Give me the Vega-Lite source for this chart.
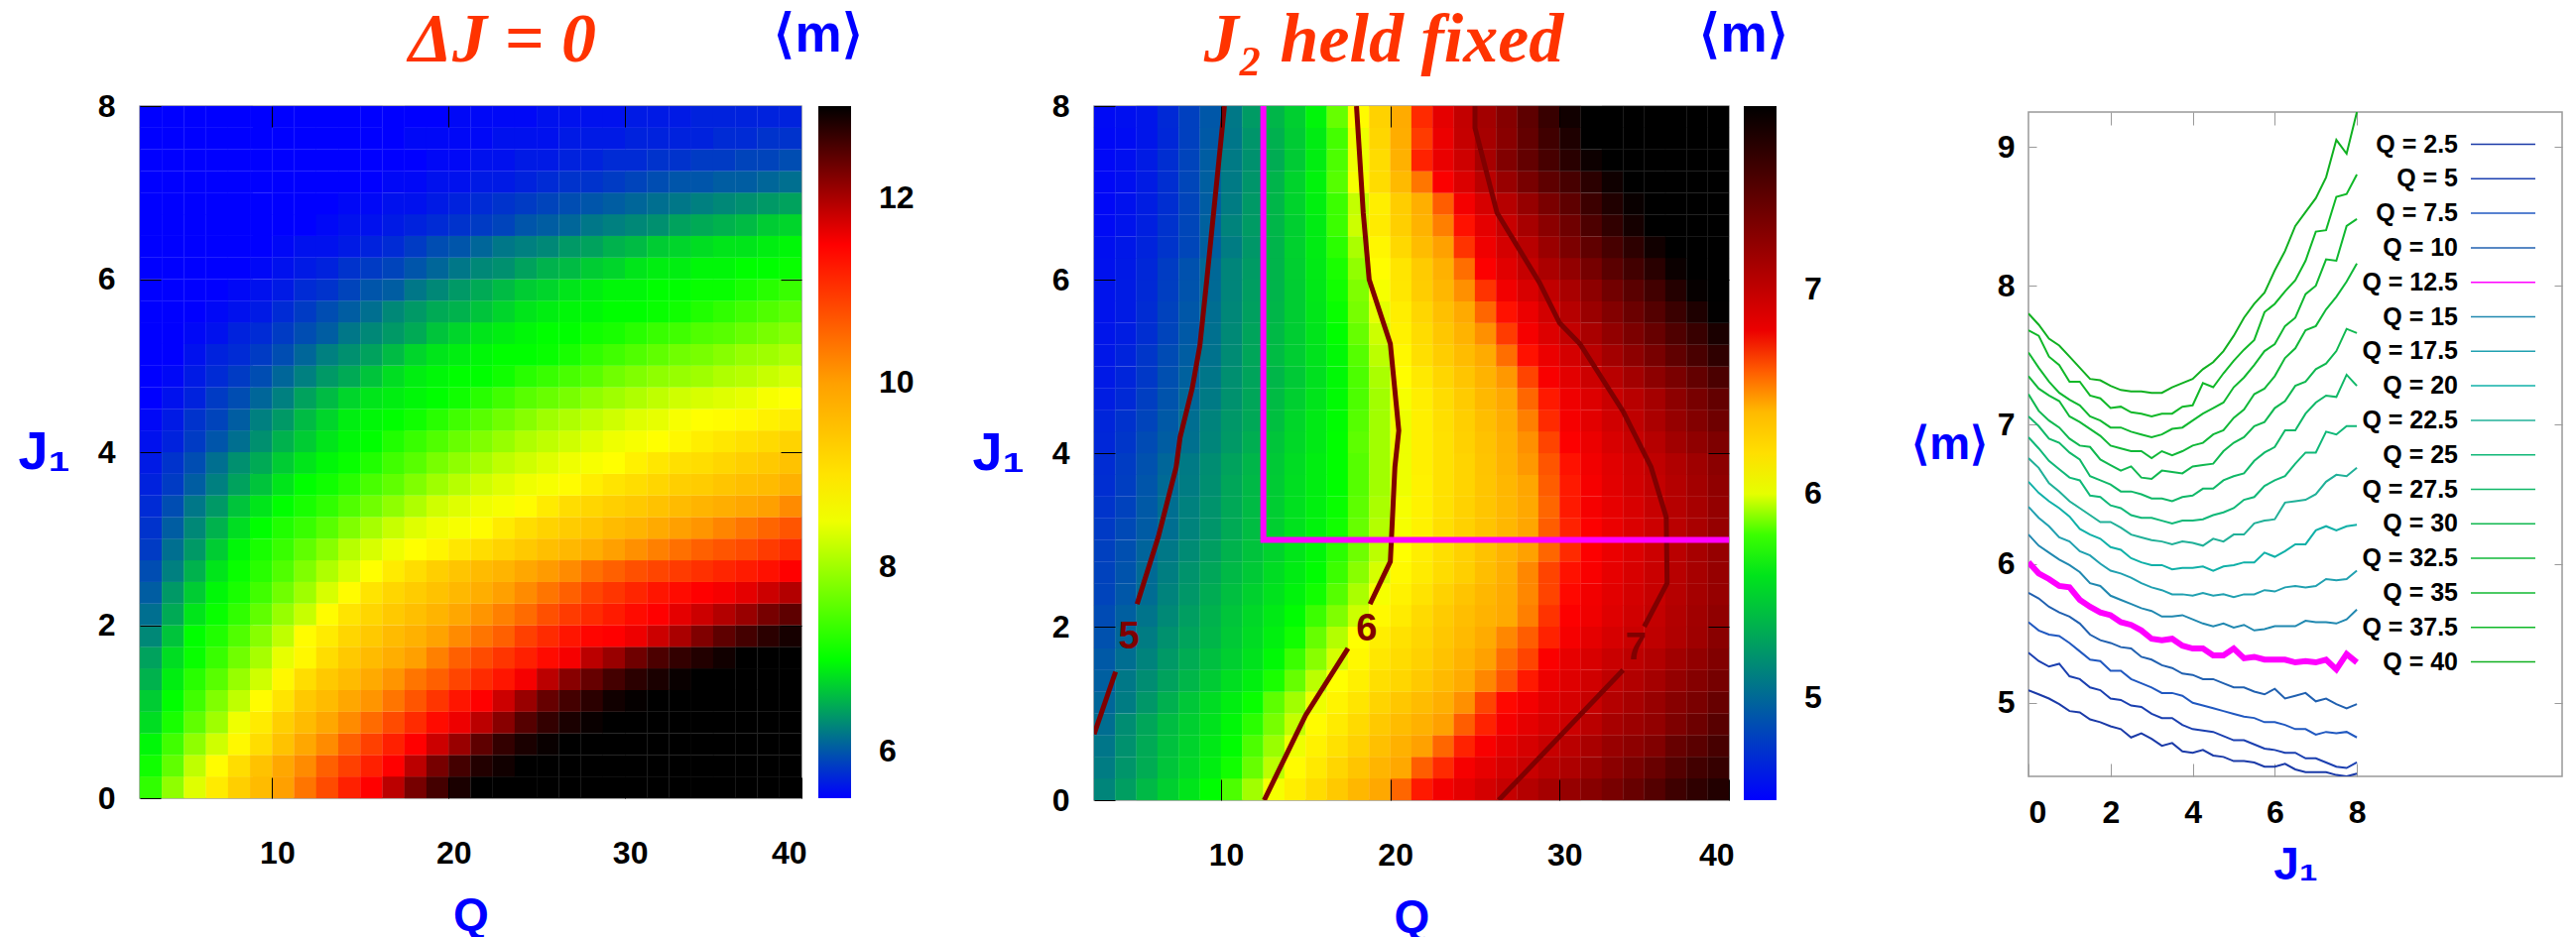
{"$schema":"https://vega.github.io/schema/vega-lite/v6.json","padding":{"left":17,"top":5,"right":5,"bottom":2},"background":"white","bounds":"flush","spacing":295,
"config":{"view":{"stroke":"#999999","strokeWidth":1.5},"font":"Liberation Sans","axis":{"labelFont":"Liberation Sans","labelFontWeight":"bold","labelFontSize":32,"labelColor":"#000","titleFont":"Liberation Sans","titleFontWeight":"bold","titleColor":"#0000ff","titleFontSize":46,"grid":false,"domain":false},"legend":{"labelFont":"Liberation Sans","labelFontWeight":"bold","labelFontSize":32,"labelColor":"#000","titleFont":"Liberation Sans","titleFontWeight":"bold","titleColor":"#0000ff"}},
"datasets":{"g":[
{"q":3.125,"j":0.125,"a":7.3,"b":5.14},{"q":4.375,"j":0.125,"a":7.9,"b":5.26},{"q":5.625,"j":0.125,"a":8.4,"b":5.39},{"q":6.875,"j":0.125,"a":8.9,"b":5.5},{"q":8.125,"j":0.125,"a":9.3,"b":5.6},{"q":9.375,"j":0.125,"a":9.6,"b":5.72},{"q":10.625,"j":0.125,"a":10,"b":5.82},{"q":11.875,"j":0.125,"a":10.4,"b":5.92},{"q":13.125,"j":0.125,"a":10.8,"b":6.02},{"q":14.375,"j":0.125,"a":11.2,"b":6.12},{"q":15.625,"j":0.125,"a":11.5,"b":6.22},{"q":16.875,"j":0.125,"a":11.9,"b":6.32},{"q":18.125,"j":0.125,"a":12.3,"b":6.42},{"q":19.375,"j":0.125,"a":12.6,"b":6.5},{"q":20.625,"j":0.125,"a":12.85,"b":6.59},{"q":21.875,"j":0.125,"a":13,"b":6.68},{"q":23.125,"j":0.125,"a":13,"b":6.76},{"q":24.375,"j":0.125,"a":13,"b":6.83},{"q":25.625,"j":0.125,"a":13,"b":6.91},{"q":26.875,"j":0.125,"a":13,"b":6.98},{"q":28.125,"j":0.125,"a":13,"b":7.06},{"q":29.375,"j":0.125,"a":13,"b":7.13},{"q":30.625,"j":0.125,"a":13,"b":7.2},{"q":31.875,"j":0.125,"a":13,"b":7.27},{"q":33.125,"j":0.125,"a":13,"b":7.34},{"q":34.375,"j":0.125,"a":13,"b":7.42},{"q":35.625,"j":0.125,"a":13,"b":7.51},{"q":36.875,"j":0.125,"a":13,"b":7.61},{"q":38.125,"j":0.125,"a":13,"b":7.68},{"q":39.375,"j":0.125,"a":13,"b":7.74},
{"q":3.125,"j":0.375,"a":7.1,"b":5.1},{"q":4.375,"j":0.375,"a":7.6,"b":5.22},{"q":5.625,"j":0.375,"a":8.2,"b":5.33},{"q":6.875,"j":0.375,"a":8.65,"b":5.45},{"q":8.125,"j":0.375,"a":9.1,"b":5.54},{"q":9.375,"j":0.375,"a":9.5,"b":5.65},{"q":10.625,"j":0.375,"a":9.9,"b":5.75},{"q":11.875,"j":0.375,"a":10.2,"b":5.85},{"q":13.125,"j":0.375,"a":10.6,"b":5.95},{"q":14.375,"j":0.375,"a":10.9,"b":6.05},{"q":15.625,"j":0.375,"a":11.2,"b":6.15},{"q":16.875,"j":0.375,"a":11.5,"b":6.25},{"q":18.125,"j":0.375,"a":11.9,"b":6.34},{"q":19.375,"j":0.375,"a":12.3,"b":6.43},{"q":20.625,"j":0.375,"a":12.6,"b":6.5},{"q":21.875,"j":0.375,"a":12.8,"b":6.6},{"q":23.125,"j":0.375,"a":12.9,"b":6.66},{"q":24.375,"j":0.375,"a":13,"b":6.75},{"q":25.625,"j":0.375,"a":13,"b":6.82},{"q":26.875,"j":0.375,"a":13,"b":6.9},{"q":28.125,"j":0.375,"a":13,"b":6.96},{"q":29.375,"j":0.375,"a":13,"b":7.03},{"q":30.625,"j":0.375,"a":13,"b":7.09},{"q":31.875,"j":0.375,"a":13,"b":7.17},{"q":33.125,"j":0.375,"a":13,"b":7.25},{"q":34.375,"j":0.375,"a":13,"b":7.33},{"q":35.625,"j":0.375,"a":13,"b":7.41},{"q":36.875,"j":0.375,"a":13,"b":7.51},{"q":38.125,"j":0.375,"a":13,"b":7.59},{"q":39.375,"j":0.375,"a":13,"b":7.65},
{"q":3.125,"j":0.625,"a":6.95,"b":5.07},{"q":4.375,"j":0.625,"a":7.4,"b":5.2},{"q":5.625,"j":0.625,"a":7.9,"b":5.32},{"q":6.875,"j":0.625,"a":8.3,"b":5.43},{"q":8.125,"j":0.625,"a":8.7,"b":5.52},{"q":9.375,"j":0.625,"a":9.1,"b":5.62},{"q":10.625,"j":0.625,"a":9.5,"b":5.72},{"q":11.875,"j":0.625,"a":9.9,"b":5.82},{"q":13.125,"j":0.625,"a":10.2,"b":5.91},{"q":14.375,"j":0.625,"a":10.6,"b":6.01},{"q":15.625,"j":0.625,"a":10.9,"b":6.1},{"q":16.875,"j":0.625,"a":11.2,"b":6.19},{"q":18.125,"j":0.625,"a":11.5,"b":6.28},{"q":19.375,"j":0.625,"a":11.8,"b":6.37},{"q":20.625,"j":0.625,"a":12.1,"b":6.45},{"q":21.875,"j":0.625,"a":12.45,"b":6.52},{"q":23.125,"j":0.625,"a":12.7,"b":6.59},{"q":24.375,"j":0.625,"a":12.85,"b":6.67},{"q":25.625,"j":0.625,"a":12.95,"b":6.74},{"q":26.875,"j":0.625,"a":13,"b":6.83},{"q":28.125,"j":0.625,"a":13,"b":6.9},{"q":29.375,"j":0.625,"a":13,"b":6.97},{"q":30.625,"j":0.625,"a":13,"b":7.03},{"q":31.875,"j":0.625,"a":13,"b":7.11},{"q":33.125,"j":0.625,"a":13,"b":7.19},{"q":34.375,"j":0.625,"a":13,"b":7.24},{"q":35.625,"j":0.625,"a":13,"b":7.3},{"q":36.875,"j":0.625,"a":13,"b":7.42},{"q":38.125,"j":0.625,"a":13,"b":7.48},{"q":39.375,"j":0.625,"a":13,"b":7.57},
{"q":3.125,"j":0.875,"a":6.8,"b":5.03},{"q":4.375,"j":0.875,"a":7.15,"b":5.18},{"q":5.625,"j":0.875,"a":7.6,"b":5.3},{"q":6.875,"j":0.875,"a":8,"b":5.41},{"q":8.125,"j":0.875,"a":8.5,"b":5.5},{"q":9.375,"j":0.875,"a":8.9,"b":5.59},{"q":10.625,"j":0.875,"a":9.3,"b":5.69},{"q":11.875,"j":0.875,"a":9.6,"b":5.78},{"q":13.125,"j":0.875,"a":9.9,"b":5.87},{"q":14.375,"j":0.875,"a":10.2,"b":5.96},{"q":15.625,"j":0.875,"a":10.5,"b":6.05},{"q":16.875,"j":0.875,"a":10.8,"b":6.14},{"q":18.125,"j":0.875,"a":11.1,"b":6.23},{"q":19.375,"j":0.875,"a":11.4,"b":6.32},{"q":20.625,"j":0.875,"a":11.6,"b":6.39},{"q":21.875,"j":0.875,"a":11.9,"b":6.45},{"q":23.125,"j":0.875,"a":12.2,"b":6.52},{"q":24.375,"j":0.875,"a":12.5,"b":6.6},{"q":25.625,"j":0.875,"a":12.7,"b":6.67},{"q":26.875,"j":0.875,"a":12.85,"b":6.75},{"q":28.125,"j":0.875,"a":12.95,"b":6.83},{"q":29.375,"j":0.875,"a":13,"b":6.89},{"q":30.625,"j":0.875,"a":13,"b":6.95},{"q":31.875,"j":0.875,"a":13,"b":7.03},{"q":33.125,"j":0.875,"a":13,"b":7.12},{"q":34.375,"j":0.875,"a":13,"b":7.17},{"q":35.625,"j":0.875,"a":13,"b":7.22},{"q":36.875,"j":0.875,"a":13,"b":7.31},{"q":38.125,"j":0.875,"a":13,"b":7.39},{"q":39.375,"j":0.875,"a":13,"b":7.49},
{"q":3.125,"j":1.125,"a":6.7,"b":4.99},{"q":4.375,"j":1.125,"a":7,"b":5.1},{"q":5.625,"j":1.125,"a":7.4,"b":5.23},{"q":6.875,"j":1.125,"a":7.8,"b":5.35},{"q":8.125,"j":1.125,"a":8.2,"b":5.46},{"q":9.375,"j":1.125,"a":8.65,"b":5.56},{"q":10.625,"j":1.125,"a":9,"b":5.65},{"q":11.875,"j":1.125,"a":9.4,"b":5.74},{"q":13.125,"j":1.125,"a":9.6,"b":5.84},{"q":14.375,"j":1.125,"a":9.9,"b":5.92},{"q":15.625,"j":1.125,"a":10.1,"b":6.01},{"q":16.875,"j":1.125,"a":10.4,"b":6.09},{"q":18.125,"j":1.125,"a":10.7,"b":6.17},{"q":19.375,"j":1.125,"a":11,"b":6.26},{"q":20.625,"j":1.125,"a":11.3,"b":6.33},{"q":21.875,"j":1.125,"a":11.5,"b":6.39},{"q":23.125,"j":1.125,"a":11.8,"b":6.46},{"q":24.375,"j":1.125,"a":12.1,"b":6.54},{"q":25.625,"j":1.125,"a":12.4,"b":6.63},{"q":26.875,"j":1.125,"a":12.6,"b":6.7},{"q":28.125,"j":1.125,"a":12.75,"b":6.76},{"q":29.375,"j":1.125,"a":12.9,"b":6.84},{"q":30.625,"j":1.125,"a":12.97,"b":6.9},{"q":31.875,"j":1.125,"a":13,"b":6.97},{"q":33.125,"j":1.125,"a":13,"b":7.06},{"q":34.375,"j":1.125,"a":13,"b":7.12},{"q":35.625,"j":1.125,"a":13,"b":7.19},{"q":36.875,"j":1.125,"a":13,"b":7.27},{"q":38.125,"j":1.125,"a":13,"b":7.33},{"q":39.375,"j":1.125,"a":13,"b":7.42},
{"q":3.125,"j":1.375,"a":6.55,"b":4.96},{"q":4.375,"j":1.375,"a":6.9,"b":5.08},{"q":5.625,"j":1.375,"a":7.25,"b":5.18},{"q":6.875,"j":1.375,"a":7.55,"b":5.28},{"q":8.125,"j":1.375,"a":7.95,"b":5.38},{"q":9.375,"j":1.375,"a":8.3,"b":5.48},{"q":10.625,"j":1.375,"a":8.7,"b":5.57},{"q":11.875,"j":1.375,"a":9.1,"b":5.66},{"q":13.125,"j":1.375,"a":9.4,"b":5.76},{"q":14.375,"j":1.375,"a":9.6,"b":5.85},{"q":15.625,"j":1.375,"a":9.85,"b":5.95},{"q":16.875,"j":1.375,"a":10.1,"b":6.03},{"q":18.125,"j":1.375,"a":10.4,"b":6.11},{"q":19.375,"j":1.375,"a":10.6,"b":6.2},{"q":20.625,"j":1.375,"a":10.85,"b":6.25},{"q":21.875,"j":1.375,"a":11.1,"b":6.32},{"q":23.125,"j":1.375,"a":11.3,"b":6.4},{"q":24.375,"j":1.375,"a":11.55,"b":6.48},{"q":25.625,"j":1.375,"a":11.9,"b":6.55},{"q":26.875,"j":1.375,"a":12.2,"b":6.61},{"q":28.125,"j":1.375,"a":12.4,"b":6.68},{"q":29.375,"j":1.375,"a":12.6,"b":6.79},{"q":30.625,"j":1.375,"a":12.75,"b":6.86},{"q":31.875,"j":1.375,"a":12.85,"b":6.93},{"q":33.125,"j":1.375,"a":12.95,"b":7.01},{"q":34.375,"j":1.375,"a":13,"b":7.07},{"q":35.625,"j":1.375,"a":13,"b":7.13},{"q":36.875,"j":1.375,"a":13,"b":7.21},{"q":38.125,"j":1.375,"a":13,"b":7.28},{"q":39.375,"j":1.375,"a":13,"b":7.35},
{"q":3.125,"j":1.625,"a":6.45,"b":4.93},{"q":4.375,"j":1.625,"a":6.8,"b":5.03},{"q":5.625,"j":1.625,"a":7.05,"b":5.13},{"q":6.875,"j":1.625,"a":7.35,"b":5.24},{"q":8.125,"j":1.625,"a":7.7,"b":5.33},{"q":9.375,"j":1.625,"a":8.05,"b":5.42},{"q":10.625,"j":1.625,"a":8.45,"b":5.5},{"q":11.875,"j":1.625,"a":8.7,"b":5.59},{"q":13.125,"j":1.625,"a":9.1,"b":5.7},{"q":14.375,"j":1.625,"a":9.4,"b":5.8},{"q":15.625,"j":1.625,"a":9.6,"b":5.89},{"q":16.875,"j":1.625,"a":9.8,"b":5.98},{"q":18.125,"j":1.625,"a":10,"b":6.07},{"q":19.375,"j":1.625,"a":10.3,"b":6.16},{"q":20.625,"j":1.625,"a":10.6,"b":6.22},{"q":21.875,"j":1.625,"a":10.8,"b":6.28},{"q":23.125,"j":1.625,"a":11,"b":6.36},{"q":24.375,"j":1.625,"a":11.2,"b":6.44},{"q":25.625,"j":1.625,"a":11.4,"b":6.52},{"q":26.875,"j":1.625,"a":11.55,"b":6.58},{"q":28.125,"j":1.625,"a":11.9,"b":6.63},{"q":29.375,"j":1.625,"a":12.1,"b":6.73},{"q":30.625,"j":1.625,"a":12.35,"b":6.82},{"q":31.875,"j":1.625,"a":12.55,"b":6.89},{"q":33.125,"j":1.625,"a":12.7,"b":6.96},{"q":34.375,"j":1.625,"a":12.8,"b":7.02},{"q":35.625,"j":1.625,"a":12.9,"b":7.07},{"q":36.875,"j":1.625,"a":13,"b":7.15},{"q":38.125,"j":1.625,"a":13,"b":7.22},{"q":39.375,"j":1.625,"a":13,"b":7.3},
{"q":3.125,"j":1.875,"a":6.3,"b":4.89},{"q":4.375,"j":1.875,"a":6.65,"b":4.99},{"q":5.625,"j":1.875,"a":7,"b":5.1},{"q":6.875,"j":1.875,"a":7.2,"b":5.2},{"q":8.125,"j":1.875,"a":7.5,"b":5.29},{"q":9.375,"j":1.875,"a":7.85,"b":5.38},{"q":10.625,"j":1.875,"a":8.2,"b":5.47},{"q":11.875,"j":1.875,"a":8.65,"b":5.56},{"q":13.125,"j":1.875,"a":8.9,"b":5.66},{"q":14.375,"j":1.875,"a":9.2,"b":5.75},{"q":15.625,"j":1.875,"a":9.4,"b":5.85},{"q":16.875,"j":1.875,"a":9.6,"b":5.94},{"q":18.125,"j":1.875,"a":9.75,"b":6.03},{"q":19.375,"j":1.875,"a":9.95,"b":6.12},{"q":20.625,"j":1.875,"a":10.2,"b":6.19},{"q":21.875,"j":1.875,"a":10.4,"b":6.25},{"q":23.125,"j":1.875,"a":10.6,"b":6.33},{"q":24.375,"j":1.875,"a":10.9,"b":6.4},{"q":25.625,"j":1.875,"a":11.1,"b":6.48},{"q":26.875,"j":1.875,"a":11.3,"b":6.55},{"q":28.125,"j":1.875,"a":11.45,"b":6.6},{"q":29.375,"j":1.875,"a":11.5,"b":6.67},{"q":30.625,"j":1.875,"a":11.6,"b":6.75},{"q":31.875,"j":1.875,"a":11.8,"b":6.83},{"q":33.125,"j":1.875,"a":12,"b":6.9},{"q":34.375,"j":1.875,"a":12.25,"b":6.96},{"q":35.625,"j":1.875,"a":12.45,"b":7.01},{"q":36.875,"j":1.875,"a":12.6,"b":7.08},{"q":38.125,"j":1.875,"a":12.75,"b":7.16},{"q":39.375,"j":1.875,"a":12.87,"b":7.26},
{"q":3.125,"j":2.125,"a":6.15,"b":4.86},{"q":4.375,"j":2.125,"a":6.5,"b":4.96},{"q":5.625,"j":2.125,"a":6.85,"b":5.06},{"q":6.875,"j":2.125,"a":7.05,"b":5.16},{"q":8.125,"j":2.125,"a":7.3,"b":5.26},{"q":9.375,"j":2.125,"a":7.6,"b":5.36},{"q":10.625,"j":2.125,"a":7.95,"b":5.45},{"q":11.875,"j":2.125,"a":8.25,"b":5.54},{"q":13.125,"j":2.125,"a":8.65,"b":5.63},{"q":14.375,"j":2.125,"a":9,"b":5.72},{"q":15.625,"j":2.125,"a":9.2,"b":5.8},{"q":16.875,"j":2.125,"a":9.4,"b":5.88},{"q":18.125,"j":2.125,"a":9.55,"b":5.97},{"q":19.375,"j":2.125,"a":9.7,"b":6.06},{"q":20.625,"j":2.125,"a":9.9,"b":6.14},{"q":21.875,"j":2.125,"a":10.1,"b":6.23},{"q":23.125,"j":2.125,"a":10.3,"b":6.31},{"q":24.375,"j":2.125,"a":10.5,"b":6.38},{"q":25.625,"j":2.125,"a":10.75,"b":6.44},{"q":26.875,"j":2.125,"a":10.95,"b":6.49},{"q":28.125,"j":2.125,"a":11.1,"b":6.56},{"q":29.375,"j":2.125,"a":11.25,"b":6.65},{"q":30.625,"j":2.125,"a":11.4,"b":6.72},{"q":31.875,"j":2.125,"a":11.5,"b":6.78},{"q":33.125,"j":2.125,"a":11.65,"b":6.86},{"q":34.375,"j":2.125,"a":11.8,"b":6.93},{"q":35.625,"j":2.125,"a":11.95,"b":6.99},{"q":36.875,"j":2.125,"a":12.1,"b":7.07},{"q":38.125,"j":2.125,"a":12.3,"b":7.15},{"q":39.375,"j":2.125,"a":12.45,"b":7.23},
{"q":3.125,"j":2.375,"a":6.05,"b":4.83},{"q":4.375,"j":2.375,"a":6.4,"b":4.92},{"q":5.625,"j":2.375,"a":6.7,"b":5.02},{"q":6.875,"j":2.375,"a":6.95,"b":5.13},{"q":8.125,"j":2.375,"a":7.15,"b":5.23},{"q":9.375,"j":2.375,"a":7.4,"b":5.33},{"q":10.625,"j":2.375,"a":7.7,"b":5.42},{"q":11.875,"j":2.375,"a":8,"b":5.51},{"q":13.125,"j":2.375,"a":8.35,"b":5.59},{"q":14.375,"j":2.375,"a":8.65,"b":5.67},{"q":15.625,"j":2.375,"a":9,"b":5.75},{"q":16.875,"j":2.375,"a":9.2,"b":5.83},{"q":18.125,"j":2.375,"a":9.35,"b":5.93},{"q":19.375,"j":2.375,"a":9.5,"b":6.02},{"q":20.625,"j":2.375,"a":9.65,"b":6.1},{"q":21.875,"j":2.375,"a":9.8,"b":6.18},{"q":23.125,"j":2.375,"a":10,"b":6.27},{"q":24.375,"j":2.375,"a":10.2,"b":6.35},{"q":25.625,"j":2.375,"a":10.4,"b":6.42},{"q":26.875,"j":2.375,"a":10.6,"b":6.48},{"q":28.125,"j":2.375,"a":10.85,"b":6.55},{"q":29.375,"j":2.375,"a":11,"b":6.63},{"q":30.625,"j":2.375,"a":11.15,"b":6.7},{"q":31.875,"j":2.375,"a":11.3,"b":6.77},{"q":33.125,"j":2.375,"a":11.4,"b":6.84},{"q":34.375,"j":2.375,"a":11.5,"b":6.91},{"q":35.625,"j":2.375,"a":11.55,"b":6.97},{"q":36.875,"j":2.375,"a":11.65,"b":7.05},{"q":38.125,"j":2.375,"a":11.8,"b":7.13},{"q":39.375,"j":2.375,"a":11.95,"b":7.2},
{"q":3.125,"j":2.625,"a":5.95,"b":4.82},{"q":4.375,"j":2.625,"a":6.25,"b":4.9},{"q":5.625,"j":2.625,"a":6.55,"b":5.01},{"q":6.875,"j":2.625,"a":6.85,"b":5.11},{"q":8.125,"j":2.625,"a":7.05,"b":5.21},{"q":9.375,"j":2.625,"a":7.25,"b":5.3},{"q":10.625,"j":2.625,"a":7.5,"b":5.39},{"q":11.875,"j":2.625,"a":7.8,"b":5.47},{"q":13.125,"j":2.625,"a":8.1,"b":5.56},{"q":14.375,"j":2.625,"a":8.35,"b":5.64},{"q":15.625,"j":2.625,"a":8.6,"b":5.72},{"q":16.875,"j":2.625,"a":8.9,"b":5.8},{"q":18.125,"j":2.625,"a":9.1,"b":5.89},{"q":19.375,"j":2.625,"a":9.3,"b":5.98},{"q":20.625,"j":2.625,"a":9.45,"b":6.06},{"q":21.875,"j":2.625,"a":9.6,"b":6.14},{"q":23.125,"j":2.625,"a":9.7,"b":6.22},{"q":24.375,"j":2.625,"a":9.9,"b":6.29},{"q":25.625,"j":2.625,"a":10.05,"b":6.38},{"q":26.875,"j":2.625,"a":10.2,"b":6.46},{"q":28.125,"j":2.625,"a":10.45,"b":6.55},{"q":29.375,"j":2.625,"a":10.6,"b":6.63},{"q":30.625,"j":2.625,"a":10.75,"b":6.69},{"q":31.875,"j":2.625,"a":10.85,"b":6.74},{"q":33.125,"j":2.625,"a":10.95,"b":6.82},{"q":34.375,"j":2.625,"a":11.05,"b":6.89},{"q":35.625,"j":2.625,"a":11.15,"b":6.96},{"q":36.875,"j":2.625,"a":11.25,"b":7.04},{"q":38.125,"j":2.625,"a":11.35,"b":7.12},{"q":39.375,"j":2.625,"a":11.5,"b":7.2},
{"q":3.125,"j":2.875,"a":5.85,"b":4.81},{"q":4.375,"j":2.875,"a":6.15,"b":4.88},{"q":5.625,"j":2.875,"a":6.4,"b":4.98},{"q":6.875,"j":2.875,"a":6.7,"b":5.08},{"q":8.125,"j":2.875,"a":6.95,"b":5.17},{"q":9.375,"j":2.875,"a":7.15,"b":5.26},{"q":10.625,"j":2.875,"a":7.35,"b":5.36},{"q":11.875,"j":2.875,"a":7.6,"b":5.44},{"q":13.125,"j":2.875,"a":7.85,"b":5.52},{"q":14.375,"j":2.875,"a":8.15,"b":5.61},{"q":15.625,"j":2.875,"a":8.35,"b":5.69},{"q":16.875,"j":2.875,"a":8.5,"b":5.78},{"q":18.125,"j":2.875,"a":8.6,"b":5.86},{"q":19.375,"j":2.875,"a":8.75,"b":5.95},{"q":20.625,"j":2.875,"a":8.95,"b":6.03},{"q":21.875,"j":2.875,"a":9.1,"b":6.12},{"q":23.125,"j":2.875,"a":9.25,"b":6.2},{"q":24.375,"j":2.875,"a":9.4,"b":6.28},{"q":25.625,"j":2.875,"a":9.55,"b":6.36},{"q":26.875,"j":2.875,"a":9.65,"b":6.44},{"q":28.125,"j":2.875,"a":9.8,"b":6.52},{"q":29.375,"j":2.875,"a":10,"b":6.59},{"q":30.625,"j":2.875,"a":10.15,"b":6.66},{"q":31.875,"j":2.875,"a":10.3,"b":6.72},{"q":33.125,"j":2.875,"a":10.45,"b":6.8},{"q":34.375,"j":2.875,"a":10.6,"b":6.87},{"q":35.625,"j":2.875,"a":10.7,"b":6.95},{"q":36.875,"j":2.875,"a":10.8,"b":7.03},{"q":38.125,"j":2.875,"a":10.95,"b":7.12},{"q":39.375,"j":2.875,"a":11.1,"b":7.2},
{"q":3.125,"j":3.125,"a":5.8,"b":4.78},{"q":4.375,"j":3.125,"a":6.05,"b":4.85},{"q":5.625,"j":3.125,"a":6.3,"b":4.94},{"q":6.875,"j":3.125,"a":6.55,"b":5.03},{"q":8.125,"j":3.125,"a":6.8,"b":5.13},{"q":9.375,"j":3.125,"a":7,"b":5.22},{"q":10.625,"j":3.125,"a":7.2,"b":5.32},{"q":11.875,"j":3.125,"a":7.35,"b":5.41},{"q":13.125,"j":3.125,"a":7.55,"b":5.5},{"q":14.375,"j":3.125,"a":7.8,"b":5.59},{"q":15.625,"j":3.125,"a":8.05,"b":5.67},{"q":16.875,"j":3.125,"a":8.25,"b":5.75},{"q":18.125,"j":3.125,"a":8.4,"b":5.85},{"q":19.375,"j":3.125,"a":8.5,"b":5.94},{"q":20.625,"j":3.125,"a":8.55,"b":6.02},{"q":21.875,"j":3.125,"a":8.65,"b":6.1},{"q":23.125,"j":3.125,"a":8.9,"b":6.2},{"q":24.375,"j":3.125,"a":9.1,"b":6.28},{"q":25.625,"j":3.125,"a":9.25,"b":6.35},{"q":26.875,"j":3.125,"a":9.35,"b":6.42},{"q":28.125,"j":3.125,"a":9.45,"b":6.51},{"q":29.375,"j":3.125,"a":9.6,"b":6.6},{"q":30.625,"j":3.125,"a":9.7,"b":6.67},{"q":31.875,"j":3.125,"a":9.85,"b":6.72},{"q":33.125,"j":3.125,"a":10,"b":6.8},{"q":34.375,"j":3.125,"a":10.1,"b":6.88},{"q":35.625,"j":3.125,"a":10.25,"b":6.95},{"q":36.875,"j":3.125,"a":10.4,"b":7.03},{"q":38.125,"j":3.125,"a":10.55,"b":7.11},{"q":39.375,"j":3.125,"a":10.7,"b":7.2},
{"q":3.125,"j":3.375,"a":5.75,"b":4.75},{"q":4.375,"j":3.375,"a":5.95,"b":4.82},{"q":5.625,"j":3.375,"a":6.2,"b":4.93},{"q":6.875,"j":3.375,"a":6.4,"b":5.03},{"q":8.125,"j":3.375,"a":6.65,"b":5.12},{"q":9.375,"j":3.375,"a":6.85,"b":5.21},{"q":10.625,"j":3.375,"a":7,"b":5.31},{"q":11.875,"j":3.375,"a":7.15,"b":5.4},{"q":13.125,"j":3.375,"a":7.3,"b":5.49},{"q":14.375,"j":3.375,"a":7.5,"b":5.58},{"q":15.625,"j":3.375,"a":7.7,"b":5.66},{"q":16.875,"j":3.375,"a":7.9,"b":5.74},{"q":18.125,"j":3.375,"a":8.1,"b":5.84},{"q":19.375,"j":3.375,"a":8.3,"b":5.93},{"q":20.625,"j":3.375,"a":8.4,"b":6.02},{"q":21.875,"j":3.375,"a":8.5,"b":6.1},{"q":23.125,"j":3.375,"a":8.55,"b":6.19},{"q":24.375,"j":3.375,"a":8.65,"b":6.27},{"q":25.625,"j":3.375,"a":8.9,"b":6.34},{"q":26.875,"j":3.375,"a":9.1,"b":6.41},{"q":28.125,"j":3.375,"a":9.2,"b":6.5},{"q":29.375,"j":3.375,"a":9.3,"b":6.59},{"q":30.625,"j":3.375,"a":9.4,"b":6.68},{"q":31.875,"j":3.375,"a":9.5,"b":6.75},{"q":33.125,"j":3.375,"a":9.6,"b":6.82},{"q":34.375,"j":3.375,"a":9.7,"b":6.89},{"q":35.625,"j":3.375,"a":9.8,"b":6.97},{"q":36.875,"j":3.375,"a":9.9,"b":7.05},{"q":38.125,"j":3.375,"a":10,"b":7.12},{"q":39.375,"j":3.375,"a":10.2,"b":7.21},
{"q":3.125,"j":3.625,"a":5.7,"b":4.72},{"q":4.375,"j":3.625,"a":5.85,"b":4.8},{"q":5.625,"j":3.625,"a":6.05,"b":4.91},{"q":6.875,"j":3.625,"a":6.25,"b":5.01},{"q":8.125,"j":3.625,"a":6.45,"b":5.1},{"q":9.375,"j":3.625,"a":6.65,"b":5.19},{"q":10.625,"j":3.625,"a":6.85,"b":5.3},{"q":11.875,"j":3.625,"a":7,"b":5.39},{"q":13.125,"j":3.625,"a":7.1,"b":5.48},{"q":14.375,"j":3.625,"a":7.25,"b":5.57},{"q":15.625,"j":3.625,"a":7.45,"b":5.65},{"q":16.875,"j":3.625,"a":7.6,"b":5.73},{"q":18.125,"j":3.625,"a":7.8,"b":5.83},{"q":19.375,"j":3.625,"a":8,"b":5.92},{"q":20.625,"j":3.625,"a":8.15,"b":6.01},{"q":21.875,"j":3.625,"a":8.3,"b":6.1},{"q":23.125,"j":3.625,"a":8.4,"b":6.19},{"q":24.375,"j":3.625,"a":8.5,"b":6.26},{"q":25.625,"j":3.625,"a":8.55,"b":6.34},{"q":26.875,"j":3.625,"a":8.65,"b":6.42},{"q":28.125,"j":3.625,"a":8.85,"b":6.51},{"q":29.375,"j":3.625,"a":9,"b":6.6},{"q":30.625,"j":3.625,"a":9.1,"b":6.68},{"q":31.875,"j":3.625,"a":9.2,"b":6.75},{"q":33.125,"j":3.625,"a":9.3,"b":6.84},{"q":34.375,"j":3.625,"a":9.35,"b":6.92},{"q":35.625,"j":3.625,"a":9.45,"b":6.99},{"q":36.875,"j":3.625,"a":9.55,"b":7.06},{"q":38.125,"j":3.625,"a":9.6,"b":7.14},{"q":39.375,"j":3.625,"a":9.75,"b":7.23},
{"q":3.125,"j":3.875,"a":5.65,"b":4.71},{"q":4.375,"j":3.875,"a":5.8,"b":4.79},{"q":5.625,"j":3.875,"a":5.95,"b":4.89},{"q":6.875,"j":3.875,"a":6.15,"b":4.99},{"q":8.125,"j":3.875,"a":6.35,"b":5.09},{"q":9.375,"j":3.875,"a":6.5,"b":5.18},{"q":10.625,"j":3.875,"a":6.7,"b":5.28},{"q":11.875,"j":3.875,"a":6.85,"b":5.38},{"q":13.125,"j":3.875,"a":6.95,"b":5.47},{"q":14.375,"j":3.875,"a":7.05,"b":5.56},{"q":15.625,"j":3.875,"a":7.2,"b":5.65},{"q":16.875,"j":3.875,"a":7.4,"b":5.73},{"q":18.125,"j":3.875,"a":7.55,"b":5.83},{"q":19.375,"j":3.875,"a":7.75,"b":5.92},{"q":20.625,"j":3.875,"a":7.9,"b":6.01},{"q":21.875,"j":3.875,"a":8.05,"b":6.11},{"q":23.125,"j":3.875,"a":8.2,"b":6.19},{"q":24.375,"j":3.875,"a":8.3,"b":6.26},{"q":25.625,"j":3.875,"a":8.4,"b":6.35},{"q":26.875,"j":3.875,"a":8.5,"b":6.44},{"q":28.125,"j":3.875,"a":8.55,"b":6.53},{"q":29.375,"j":3.875,"a":8.6,"b":6.61},{"q":30.625,"j":3.875,"a":8.8,"b":6.69},{"q":31.875,"j":3.875,"a":8.95,"b":6.77},{"q":33.125,"j":3.875,"a":9.05,"b":6.85},{"q":34.375,"j":3.875,"a":9.1,"b":6.93},{"q":35.625,"j":3.875,"a":9.2,"b":7.01},{"q":36.875,"j":3.875,"a":9.3,"b":7.08},{"q":38.125,"j":3.875,"a":9.4,"b":7.16},{"q":39.375,"j":3.875,"a":9.5,"b":7.25},
{"q":3.125,"j":4.125,"a":5.6,"b":4.69},{"q":4.375,"j":4.125,"a":5.7,"b":4.76},{"q":5.625,"j":4.125,"a":5.85,"b":4.86},{"q":6.875,"j":4.125,"a":6,"b":4.95},{"q":8.125,"j":4.125,"a":6.15,"b":5.04},{"q":9.375,"j":4.125,"a":6.35,"b":5.14},{"q":10.625,"j":4.125,"a":6.55,"b":5.24},{"q":11.875,"j":4.125,"a":6.7,"b":5.34},{"q":13.125,"j":4.125,"a":6.85,"b":5.45},{"q":14.375,"j":4.125,"a":6.95,"b":5.54},{"q":15.625,"j":4.125,"a":7,"b":5.63},{"q":16.875,"j":4.125,"a":7.2,"b":5.73},{"q":18.125,"j":4.125,"a":7.35,"b":5.84},{"q":19.375,"j":4.125,"a":7.5,"b":5.92},{"q":20.625,"j":4.125,"a":7.65,"b":6.01},{"q":21.875,"j":4.125,"a":7.8,"b":6.11},{"q":23.125,"j":4.125,"a":7.95,"b":6.19},{"q":24.375,"j":4.125,"a":8.1,"b":6.28},{"q":25.625,"j":4.125,"a":8.2,"b":6.36},{"q":26.875,"j":4.125,"a":8.3,"b":6.45},{"q":28.125,"j":4.125,"a":8.4,"b":6.54},{"q":29.375,"j":4.125,"a":8.5,"b":6.63},{"q":30.625,"j":4.125,"a":8.55,"b":6.72},{"q":31.875,"j":4.125,"a":8.6,"b":6.8},{"q":33.125,"j":4.125,"a":8.7,"b":6.89},{"q":34.375,"j":4.125,"a":8.85,"b":6.97},{"q":35.625,"j":4.125,"a":8.95,"b":7.05},{"q":36.875,"j":4.125,"a":9.05,"b":7.15},{"q":38.125,"j":4.125,"a":9.15,"b":7.23},{"q":39.375,"j":4.125,"a":9.25,"b":7.31},
{"q":3.125,"j":4.375,"a":5.55,"b":4.68},{"q":4.375,"j":4.375,"a":5.65,"b":4.74},{"q":5.625,"j":4.375,"a":5.8,"b":4.83},{"q":6.875,"j":4.375,"a":5.9,"b":4.93},{"q":8.125,"j":4.375,"a":6.05,"b":5.03},{"q":9.375,"j":4.375,"a":6.25,"b":5.13},{"q":10.625,"j":4.375,"a":6.4,"b":5.23},{"q":11.875,"j":4.375,"a":6.6,"b":5.31},{"q":13.125,"j":4.375,"a":6.75,"b":5.42},{"q":14.375,"j":4.375,"a":6.9,"b":5.53},{"q":15.625,"j":4.375,"a":6.95,"b":5.63},{"q":16.875,"j":4.375,"a":7,"b":5.72},{"q":18.125,"j":4.375,"a":7.1,"b":5.83},{"q":19.375,"j":4.375,"a":7.25,"b":5.92},{"q":20.625,"j":4.375,"a":7.4,"b":6.01},{"q":21.875,"j":4.375,"a":7.55,"b":6.11},{"q":23.125,"j":4.375,"a":7.7,"b":6.2},{"q":24.375,"j":4.375,"a":7.85,"b":6.29},{"q":25.625,"j":4.375,"a":8,"b":6.38},{"q":26.875,"j":4.375,"a":8.1,"b":6.47},{"q":28.125,"j":4.375,"a":8.2,"b":6.56},{"q":29.375,"j":4.375,"a":8.3,"b":6.66},{"q":30.625,"j":4.375,"a":8.4,"b":6.75},{"q":31.875,"j":4.375,"a":8.45,"b":6.84},{"q":33.125,"j":4.375,"a":8.55,"b":6.93},{"q":34.375,"j":4.375,"a":8.6,"b":7.01},{"q":35.625,"j":4.375,"a":8.65,"b":7.1},{"q":36.875,"j":4.375,"a":8.7,"b":7.2},{"q":38.125,"j":4.375,"a":8.8,"b":7.29},{"q":39.375,"j":4.375,"a":8.9,"b":7.38},
{"q":3.125,"j":4.625,"a":5.5,"b":4.64},{"q":4.375,"j":4.625,"a":5.6,"b":4.7},{"q":5.625,"j":4.625,"a":5.7,"b":4.8},{"q":6.875,"j":4.625,"a":5.85,"b":4.9},{"q":8.125,"j":4.625,"a":5.95,"b":4.99},{"q":9.375,"j":4.625,"a":6.1,"b":5.09},{"q":10.625,"j":4.625,"a":6.25,"b":5.2},{"q":11.875,"j":4.625,"a":6.45,"b":5.3},{"q":13.125,"j":4.625,"a":6.6,"b":5.4},{"q":14.375,"j":4.625,"a":6.75,"b":5.5},{"q":15.625,"j":4.625,"a":6.85,"b":5.6},{"q":16.875,"j":4.625,"a":6.9,"b":5.71},{"q":18.125,"j":4.625,"a":6.95,"b":5.82},{"q":19.375,"j":4.625,"a":7,"b":5.92},{"q":20.625,"j":4.625,"a":7.1,"b":6.02},{"q":21.875,"j":4.625,"a":7.25,"b":6.12},{"q":23.125,"j":4.625,"a":7.4,"b":6.22},{"q":24.375,"j":4.625,"a":7.55,"b":6.31},{"q":25.625,"j":4.625,"a":7.65,"b":6.41},{"q":26.875,"j":4.625,"a":7.75,"b":6.5},{"q":28.125,"j":4.625,"a":7.9,"b":6.59},{"q":29.375,"j":4.625,"a":8,"b":6.68},{"q":30.625,"j":4.625,"a":8.1,"b":6.78},{"q":31.875,"j":4.625,"a":8.2,"b":6.87},{"q":33.125,"j":4.625,"a":8.3,"b":6.96},{"q":34.375,"j":4.625,"a":8.35,"b":7.04},{"q":35.625,"j":4.625,"a":8.4,"b":7.13},{"q":36.875,"j":4.625,"a":8.45,"b":7.24},{"q":38.125,"j":4.625,"a":8.55,"b":7.34},{"q":39.375,"j":4.625,"a":8.6,"b":7.44},
{"q":3.125,"j":4.875,"a":5.5,"b":4.62},{"q":4.375,"j":4.875,"a":5.55,"b":4.68},{"q":5.625,"j":4.875,"a":5.65,"b":4.77},{"q":6.875,"j":4.875,"a":5.75,"b":4.88},{"q":8.125,"j":4.875,"a":5.85,"b":4.97},{"q":9.375,"j":4.875,"a":5.95,"b":5.07},{"q":10.625,"j":4.875,"a":6.1,"b":5.19},{"q":11.875,"j":4.875,"a":6.25,"b":5.29},{"q":13.125,"j":4.875,"a":6.4,"b":5.38},{"q":14.375,"j":4.875,"a":6.5,"b":5.47},{"q":15.625,"j":4.875,"a":6.65,"b":5.58},{"q":16.875,"j":4.875,"a":6.8,"b":5.7},{"q":18.125,"j":4.875,"a":6.9,"b":5.82},{"q":19.375,"j":4.875,"a":6.95,"b":5.93},{"q":20.625,"j":4.875,"a":7,"b":6.04},{"q":21.875,"j":4.875,"a":7,"b":6.15},{"q":23.125,"j":4.875,"a":7.1,"b":6.25},{"q":24.375,"j":4.875,"a":7.25,"b":6.34},{"q":25.625,"j":4.875,"a":7.35,"b":6.44},{"q":26.875,"j":4.875,"a":7.45,"b":6.53},{"q":28.125,"j":4.875,"a":7.55,"b":6.63},{"q":29.375,"j":4.875,"a":7.7,"b":6.74},{"q":30.625,"j":4.875,"a":7.8,"b":6.84},{"q":31.875,"j":4.875,"a":7.9,"b":6.95},{"q":33.125,"j":4.875,"a":7.95,"b":7.04},{"q":34.375,"j":4.875,"a":8,"b":7.14},{"q":35.625,"j":4.875,"a":8.1,"b":7.24},{"q":36.875,"j":4.875,"a":8.15,"b":7.33},{"q":38.125,"j":4.875,"a":8.25,"b":7.44},{"q":39.375,"j":4.875,"a":8.35,"b":7.55},
{"q":3.125,"j":5.125,"a":5.5,"b":4.61},{"q":4.375,"j":5.125,"a":5.5,"b":4.67},{"q":5.625,"j":5.125,"a":5.6,"b":4.76},{"q":6.875,"j":5.125,"a":5.7,"b":4.86},{"q":8.125,"j":5.125,"a":5.75,"b":4.95},{"q":9.375,"j":5.125,"a":5.85,"b":5.05},{"q":10.625,"j":5.125,"a":5.95,"b":5.17},{"q":11.875,"j":5.125,"a":6.1,"b":5.3},{"q":13.125,"j":5.125,"a":6.25,"b":5.4},{"q":14.375,"j":5.125,"a":6.35,"b":5.49},{"q":15.625,"j":5.125,"a":6.45,"b":5.59},{"q":16.875,"j":5.125,"a":6.6,"b":5.7},{"q":18.125,"j":5.125,"a":6.75,"b":5.83},{"q":19.375,"j":5.125,"a":6.85,"b":5.95},{"q":20.625,"j":5.125,"a":6.9,"b":6.07},{"q":21.875,"j":5.125,"a":6.95,"b":6.2},{"q":23.125,"j":5.125,"a":7,"b":6.3},{"q":24.375,"j":5.125,"a":7,"b":6.39},{"q":25.625,"j":5.125,"a":7.05,"b":6.48},{"q":26.875,"j":5.125,"a":7.15,"b":6.58},{"q":28.125,"j":5.125,"a":7.3,"b":6.69},{"q":29.375,"j":5.125,"a":7.4,"b":6.8},{"q":30.625,"j":5.125,"a":7.5,"b":6.91},{"q":31.875,"j":5.125,"a":7.6,"b":7.03},{"q":33.125,"j":5.125,"a":7.7,"b":7.14},{"q":34.375,"j":5.125,"a":7.75,"b":7.24},{"q":35.625,"j":5.125,"a":7.85,"b":7.34},{"q":36.875,"j":5.125,"a":7.95,"b":7.45},{"q":38.125,"j":5.125,"a":8,"b":7.56},{"q":39.375,"j":5.125,"a":8.1,"b":7.68},
{"q":3.125,"j":5.375,"a":5.5,"b":4.6},{"q":4.375,"j":5.375,"a":5.5,"b":4.64},{"q":5.625,"j":5.375,"a":5.55,"b":4.72},{"q":6.875,"j":5.375,"a":5.6,"b":4.83},{"q":8.125,"j":5.375,"a":5.7,"b":4.93},{"q":9.375,"j":5.375,"a":5.75,"b":5.04},{"q":10.625,"j":5.375,"a":5.85,"b":5.16},{"q":11.875,"j":5.375,"a":5.95,"b":5.29},{"q":13.125,"j":5.375,"a":6.05,"b":5.39},{"q":14.375,"j":5.375,"a":6.2,"b":5.49},{"q":15.625,"j":5.375,"a":6.3,"b":5.6},{"q":16.875,"j":5.375,"a":6.4,"b":5.73},{"q":18.125,"j":5.375,"a":6.5,"b":5.85},{"q":19.375,"j":5.375,"a":6.65,"b":5.97},{"q":20.625,"j":5.375,"a":6.75,"b":6.1},{"q":21.875,"j":5.375,"a":6.85,"b":6.22},{"q":23.125,"j":5.375,"a":6.9,"b":6.33},{"q":24.375,"j":5.375,"a":6.95,"b":6.44},{"q":25.625,"j":5.375,"a":7,"b":6.54},{"q":26.875,"j":5.375,"a":7,"b":6.64},{"q":28.125,"j":5.375,"a":7.1,"b":6.75},{"q":29.375,"j":5.375,"a":7.15,"b":6.87},{"q":30.625,"j":5.375,"a":7.25,"b":6.99},{"q":31.875,"j":5.375,"a":7.35,"b":7.11},{"q":33.125,"j":5.375,"a":7.4,"b":7.22},{"q":34.375,"j":5.375,"a":7.5,"b":7.32},{"q":35.625,"j":5.375,"a":7.55,"b":7.42},{"q":36.875,"j":5.375,"a":7.65,"b":7.53},{"q":38.125,"j":5.375,"a":7.75,"b":7.64},{"q":39.375,"j":5.375,"a":7.85,"b":7.78},
{"q":3.125,"j":5.625,"a":5.5,"b":4.59},{"q":4.375,"j":5.625,"a":5.5,"b":4.63},{"q":5.625,"j":5.625,"a":5.5,"b":4.71},{"q":6.875,"j":5.625,"a":5.55,"b":4.82},{"q":8.125,"j":5.625,"a":5.6,"b":4.92},{"q":9.375,"j":5.625,"a":5.65,"b":5.03},{"q":10.625,"j":5.625,"a":5.75,"b":5.15},{"q":11.875,"j":5.625,"a":5.85,"b":5.27},{"q":13.125,"j":5.625,"a":5.95,"b":5.38},{"q":14.375,"j":5.625,"a":6.05,"b":5.49},{"q":15.625,"j":5.625,"a":6.15,"b":5.61},{"q":16.875,"j":5.625,"a":6.3,"b":5.74},{"q":18.125,"j":5.625,"a":6.4,"b":5.87},{"q":19.375,"j":5.625,"a":6.5,"b":6},{"q":20.625,"j":5.625,"a":6.55,"b":6.12},{"q":21.875,"j":5.625,"a":6.65,"b":6.25},{"q":23.125,"j":5.625,"a":6.75,"b":6.37},{"q":24.375,"j":5.625,"a":6.85,"b":6.49},{"q":25.625,"j":5.625,"a":6.9,"b":6.59},{"q":26.875,"j":5.625,"a":6.95,"b":6.69},{"q":28.125,"j":5.625,"a":6.95,"b":6.8},{"q":29.375,"j":5.625,"a":7,"b":6.92},{"q":30.625,"j":5.625,"a":7,"b":7.05},{"q":31.875,"j":5.625,"a":7.05,"b":7.18},{"q":33.125,"j":5.625,"a":7.1,"b":7.29},{"q":34.375,"j":5.625,"a":7.2,"b":7.4},{"q":35.625,"j":5.625,"a":7.3,"b":7.51},{"q":36.875,"j":5.625,"a":7.4,"b":7.63},{"q":38.125,"j":5.625,"a":7.5,"b":7.76},{"q":39.375,"j":5.625,"a":7.6,"b":7.89},
{"q":3.125,"j":5.875,"a":5.5,"b":4.59},{"q":4.375,"j":5.875,"a":5.5,"b":4.63},{"q":5.625,"j":5.875,"a":5.5,"b":4.7},{"q":6.875,"j":5.875,"a":5.5,"b":4.8},{"q":8.125,"j":5.875,"a":5.55,"b":4.9},{"q":9.375,"j":5.875,"a":5.6,"b":5.01},{"q":10.625,"j":5.875,"a":5.65,"b":5.14},{"q":11.875,"j":5.875,"a":5.75,"b":5.26},{"q":13.125,"j":5.875,"a":5.8,"b":5.37},{"q":14.375,"j":5.875,"a":5.9,"b":5.49},{"q":15.625,"j":5.875,"a":6,"b":5.62},{"q":16.875,"j":5.875,"a":6.05,"b":5.75},{"q":18.125,"j":5.875,"a":6.2,"b":5.88},{"q":19.375,"j":5.875,"a":6.3,"b":6.02},{"q":20.625,"j":5.875,"a":6.4,"b":6.16},{"q":21.875,"j":5.875,"a":6.5,"b":6.3},{"q":23.125,"j":5.875,"a":6.6,"b":6.42},{"q":24.375,"j":5.875,"a":6.7,"b":6.54},{"q":25.625,"j":5.875,"a":6.75,"b":6.65},{"q":26.875,"j":5.875,"a":6.85,"b":6.77},{"q":28.125,"j":5.875,"a":6.9,"b":6.89},{"q":29.375,"j":5.875,"a":6.95,"b":7},{"q":30.625,"j":5.875,"a":6.95,"b":7.11},{"q":31.875,"j":5.875,"a":7,"b":7.24},{"q":33.125,"j":5.875,"a":7,"b":7.37},{"q":34.375,"j":5.875,"a":7.05,"b":7.48},{"q":35.625,"j":5.875,"a":7.05,"b":7.59},{"q":36.875,"j":5.875,"a":7.15,"b":7.73},{"q":38.125,"j":5.875,"a":7.25,"b":7.87},{"q":39.375,"j":5.875,"a":7.35,"b":8},
{"q":3.125,"j":6.125,"a":5.5,"b":4.58},{"q":4.375,"j":6.125,"a":5.5,"b":4.62},{"q":5.625,"j":6.125,"a":5.5,"b":4.69},{"q":6.875,"j":6.125,"a":5.5,"b":4.79},{"q":8.125,"j":6.125,"a":5.5,"b":4.89},{"q":9.375,"j":6.125,"a":5.55,"b":5},{"q":10.625,"j":6.125,"a":5.6,"b":5.14},{"q":11.875,"j":6.125,"a":5.65,"b":5.25},{"q":13.125,"j":6.125,"a":5.7,"b":5.37},{"q":14.375,"j":6.125,"a":5.8,"b":5.5},{"q":15.625,"j":6.125,"a":5.85,"b":5.63},{"q":16.875,"j":6.125,"a":5.9,"b":5.76},{"q":18.125,"j":6.125,"a":6,"b":5.9},{"q":19.375,"j":6.125,"a":6.1,"b":6.04},{"q":20.625,"j":6.125,"a":6.2,"b":6.17},{"q":21.875,"j":6.125,"a":6.3,"b":6.31},{"q":23.125,"j":6.125,"a":6.35,"b":6.45},{"q":24.375,"j":6.125,"a":6.45,"b":6.58},{"q":25.625,"j":6.125,"a":6.55,"b":6.72},{"q":26.875,"j":6.125,"a":6.6,"b":6.85},{"q":28.125,"j":6.125,"a":6.7,"b":6.98},{"q":29.375,"j":6.125,"a":6.75,"b":7.1},{"q":30.625,"j":6.125,"a":6.85,"b":7.22},{"q":31.875,"j":6.125,"a":6.9,"b":7.35},{"q":33.125,"j":6.125,"a":6.9,"b":7.48},{"q":34.375,"j":6.125,"a":6.95,"b":7.59},{"q":35.625,"j":6.125,"a":6.95,"b":7.71},{"q":36.875,"j":6.125,"a":7,"b":7.85},{"q":38.125,"j":6.125,"a":7,"b":8},{"q":39.375,"j":6.125,"a":7.05,"b":8.14},
{"q":3.125,"j":6.375,"a":5.5,"b":4.57},{"q":4.375,"j":6.375,"a":5.5,"b":4.61},{"q":5.625,"j":6.375,"a":5.5,"b":4.67},{"q":6.875,"j":6.375,"a":5.5,"b":4.75},{"q":8.125,"j":6.375,"a":5.5,"b":4.84},{"q":9.375,"j":6.375,"a":5.5,"b":4.96},{"q":10.625,"j":6.375,"a":5.55,"b":5.1},{"q":11.875,"j":6.375,"a":5.6,"b":5.23},{"q":13.125,"j":6.375,"a":5.6,"b":5.37},{"q":14.375,"j":6.375,"a":5.65,"b":5.51},{"q":15.625,"j":6.375,"a":5.7,"b":5.64},{"q":16.875,"j":6.375,"a":5.75,"b":5.78},{"q":18.125,"j":6.375,"a":5.85,"b":5.93},{"q":19.375,"j":6.375,"a":5.95,"b":6.08},{"q":20.625,"j":6.375,"a":6,"b":6.24},{"q":21.875,"j":6.375,"a":6.1,"b":6.39},{"q":23.125,"j":6.375,"a":6.2,"b":6.52},{"q":24.375,"j":6.375,"a":6.25,"b":6.65},{"q":25.625,"j":6.375,"a":6.3,"b":6.78},{"q":26.875,"j":6.375,"a":6.4,"b":6.91},{"q":28.125,"j":6.375,"a":6.45,"b":7.04},{"q":29.375,"j":6.375,"a":6.55,"b":7.18},{"q":30.625,"j":6.375,"a":6.6,"b":7.32},{"q":31.875,"j":6.375,"a":6.7,"b":7.45},{"q":33.125,"j":6.375,"a":6.75,"b":7.57},{"q":34.375,"j":6.375,"a":6.8,"b":7.69},{"q":35.625,"j":6.375,"a":6.85,"b":7.82},{"q":36.875,"j":6.375,"a":6.85,"b":7.96},{"q":38.125,"j":6.375,"a":6.9,"b":8.12},{"q":39.375,"j":6.375,"a":6.95,"b":8.28},
{"q":3.125,"j":6.625,"a":5.5,"b":4.55},{"q":4.375,"j":6.625,"a":5.5,"b":4.59},{"q":5.625,"j":6.625,"a":5.5,"b":4.65},{"q":6.875,"j":6.625,"a":5.5,"b":4.74},{"q":8.125,"j":6.625,"a":5.5,"b":4.84},{"q":9.375,"j":6.625,"a":5.5,"b":4.97},{"q":10.625,"j":6.625,"a":5.5,"b":5.13},{"q":11.875,"j":6.625,"a":5.5,"b":5.25},{"q":13.125,"j":6.625,"a":5.55,"b":5.38},{"q":14.375,"j":6.625,"a":5.6,"b":5.5},{"q":15.625,"j":6.625,"a":5.6,"b":5.64},{"q":16.875,"j":6.625,"a":5.65,"b":5.8},{"q":18.125,"j":6.625,"a":5.7,"b":5.97},{"q":19.375,"j":6.625,"a":5.75,"b":6.14},{"q":20.625,"j":6.625,"a":5.8,"b":6.29},{"q":21.875,"j":6.625,"a":5.85,"b":6.44},{"q":23.125,"j":6.625,"a":5.9,"b":6.56},{"q":24.375,"j":6.625,"a":6,"b":6.69},{"q":25.625,"j":6.625,"a":6.05,"b":6.83},{"q":26.875,"j":6.625,"a":6.1,"b":6.97},{"q":28.125,"j":6.625,"a":6.2,"b":7.12},{"q":29.375,"j":6.625,"a":6.25,"b":7.25},{"q":30.625,"j":6.625,"a":6.3,"b":7.38},{"q":31.875,"j":6.625,"a":6.35,"b":7.54},{"q":33.125,"j":6.625,"a":6.45,"b":7.67},{"q":34.375,"j":6.625,"a":6.5,"b":7.8},{"q":35.625,"j":6.625,"a":6.55,"b":7.93},{"q":36.875,"j":6.625,"a":6.6,"b":8.08},{"q":38.125,"j":6.625,"a":6.7,"b":8.25},{"q":39.375,"j":6.625,"a":6.75,"b":8.39},
{"q":3.125,"j":6.875,"a":5.5,"b":4.54},{"q":4.375,"j":6.875,"a":5.5,"b":4.58},{"q":5.625,"j":6.875,"a":5.5,"b":4.64},{"q":6.875,"j":6.875,"a":5.5,"b":4.72},{"q":8.125,"j":6.875,"a":5.5,"b":4.83},{"q":9.375,"j":6.875,"a":5.5,"b":4.95},{"q":10.625,"j":6.875,"a":5.5,"b":5.1},{"q":11.875,"j":6.875,"a":5.5,"b":5.24},{"q":13.125,"j":6.875,"a":5.5,"b":5.38},{"q":14.375,"j":6.875,"a":5.55,"b":5.52},{"q":15.625,"j":6.875,"a":5.55,"b":5.66},{"q":16.875,"j":6.875,"a":5.6,"b":5.8},{"q":18.125,"j":6.875,"a":5.6,"b":5.96},{"q":19.375,"j":6.875,"a":5.65,"b":6.12},{"q":20.625,"j":6.875,"a":5.7,"b":6.3},{"q":21.875,"j":6.875,"a":5.75,"b":6.46},{"q":23.125,"j":6.875,"a":5.8,"b":6.6},{"q":24.375,"j":6.875,"a":5.85,"b":6.76},{"q":25.625,"j":6.875,"a":5.9,"b":6.9},{"q":26.875,"j":6.875,"a":5.95,"b":7.05},{"q":28.125,"j":6.875,"a":6,"b":7.2},{"q":29.375,"j":6.875,"a":6.05,"b":7.33},{"q":30.625,"j":6.875,"a":6.1,"b":7.46},{"q":31.875,"j":6.875,"a":6.15,"b":7.62},{"q":33.125,"j":6.875,"a":6.2,"b":7.75},{"q":34.375,"j":6.875,"a":6.25,"b":7.86},{"q":35.625,"j":6.875,"a":6.3,"b":8},{"q":36.875,"j":6.875,"a":6.35,"b":8.18},{"q":38.125,"j":6.875,"a":6.4,"b":8.34},{"q":39.375,"j":6.875,"a":6.45,"b":8.48},
{"q":3.125,"j":7.125,"a":5.5,"b":4.54},{"q":4.375,"j":7.125,"a":5.5,"b":4.57},{"q":5.625,"j":7.125,"a":5.5,"b":4.63},{"q":6.875,"j":7.125,"a":5.5,"b":4.72},{"q":8.125,"j":7.125,"a":5.5,"b":4.84},{"q":9.375,"j":7.125,"a":5.5,"b":4.96},{"q":10.625,"j":7.125,"a":5.5,"b":5.09},{"q":11.875,"j":7.125,"a":5.5,"b":5.22},{"q":13.125,"j":7.125,"a":5.5,"b":5.37},{"q":14.375,"j":7.125,"a":5.5,"b":5.52},{"q":15.625,"j":7.125,"a":5.5,"b":5.67},{"q":16.875,"j":7.125,"a":5.55,"b":5.83},{"q":18.125,"j":7.125,"a":5.55,"b":6.02},{"q":19.375,"j":7.125,"a":5.6,"b":6.22},{"q":20.625,"j":7.125,"a":5.6,"b":6.4},{"q":21.875,"j":7.125,"a":5.65,"b":6.57},{"q":23.125,"j":7.125,"a":5.65,"b":6.73},{"q":24.375,"j":7.125,"a":5.7,"b":6.88},{"q":25.625,"j":7.125,"a":5.75,"b":7.03},{"q":26.875,"j":7.125,"a":5.8,"b":7.19},{"q":28.125,"j":7.125,"a":5.8,"b":7.34},{"q":29.375,"j":7.125,"a":5.85,"b":7.46},{"q":30.625,"j":7.125,"a":5.9,"b":7.57},{"q":31.875,"j":7.125,"a":5.95,"b":7.7},{"q":33.125,"j":7.125,"a":6,"b":7.83},{"q":34.375,"j":7.125,"a":6,"b":7.96},{"q":35.625,"j":7.125,"a":6.05,"b":8.1},{"q":36.875,"j":7.125,"a":6.05,"b":8.22},{"q":38.125,"j":7.125,"a":6.1,"b":8.4},{"q":39.375,"j":7.125,"a":6.15,"b":8.6},
{"q":3.125,"j":7.375,"a":5.5,"b":4.54},{"q":4.375,"j":7.375,"a":5.5,"b":4.57},{"q":5.625,"j":7.375,"a":5.5,"b":4.63},{"q":6.875,"j":7.375,"a":5.5,"b":4.72},{"q":8.125,"j":7.375,"a":5.5,"b":4.83},{"q":9.375,"j":7.375,"a":5.5,"b":4.95},{"q":10.625,"j":7.375,"a":5.5,"b":5.09},{"q":11.875,"j":7.375,"a":5.5,"b":5.2},{"q":13.125,"j":7.375,"a":5.5,"b":5.33},{"q":14.375,"j":7.375,"a":5.5,"b":5.48},{"q":15.625,"j":7.375,"a":5.5,"b":5.65},{"q":16.875,"j":7.375,"a":5.5,"b":5.82},{"q":18.125,"j":7.375,"a":5.5,"b":6.01},{"q":19.375,"j":7.375,"a":5.55,"b":6.22},{"q":20.625,"j":7.375,"a":5.55,"b":6.45},{"q":21.875,"j":7.375,"a":5.6,"b":6.67},{"q":23.125,"j":7.375,"a":5.6,"b":6.81},{"q":24.375,"j":7.375,"a":5.65,"b":6.94},{"q":25.625,"j":7.375,"a":5.65,"b":7.12},{"q":26.875,"j":7.375,"a":5.7,"b":7.3},{"q":28.125,"j":7.375,"a":5.7,"b":7.44},{"q":29.375,"j":7.375,"a":5.75,"b":7.57},{"q":30.625,"j":7.375,"a":5.75,"b":7.71},{"q":31.875,"j":7.375,"a":5.8,"b":7.84},{"q":33.125,"j":7.375,"a":5.8,"b":7.96},{"q":34.375,"j":7.375,"a":5.85,"b":8.11},{"q":35.625,"j":7.375,"a":5.85,"b":8.25},{"q":36.875,"j":7.375,"a":5.9,"b":8.38},{"q":38.125,"j":7.375,"a":5.9,"b":8.6},{"q":39.375,"j":7.375,"a":5.95,"b":8.85},
{"q":3.125,"j":7.625,"a":5.5,"b":4.54},{"q":4.375,"j":7.625,"a":5.5,"b":4.56},{"q":5.625,"j":7.625,"a":5.5,"b":4.6},{"q":6.875,"j":7.625,"a":5.5,"b":4.69},{"q":8.125,"j":7.625,"a":5.5,"b":4.81},{"q":9.375,"j":7.625,"a":5.5,"b":4.93},{"q":10.625,"j":7.625,"a":5.5,"b":5.07},{"q":11.875,"j":7.625,"a":5.5,"b":5.22},{"q":13.125,"j":7.625,"a":5.5,"b":5.35},{"q":14.375,"j":7.625,"a":5.5,"b":5.48},{"q":15.625,"j":7.625,"a":5.5,"b":5.64},{"q":16.875,"j":7.625,"a":5.5,"b":5.81},{"q":18.125,"j":7.625,"a":5.55,"b":6.01},{"q":19.375,"j":7.625,"a":5.55,"b":6.25},{"q":20.625,"j":7.625,"a":5.55,"b":6.47},{"q":21.875,"j":7.625,"a":5.55,"b":6.64},{"q":23.125,"j":7.625,"a":5.6,"b":6.8},{"q":24.375,"j":7.625,"a":5.6,"b":6.98},{"q":25.625,"j":7.625,"a":5.6,"b":7.12},{"q":26.875,"j":7.625,"a":5.65,"b":7.26},{"q":28.125,"j":7.625,"a":5.65,"b":7.44},{"q":29.375,"j":7.625,"a":5.65,"b":7.6},{"q":30.625,"j":7.625,"a":5.7,"b":7.76},{"q":31.875,"j":7.625,"a":5.7,"b":7.92},{"q":33.125,"j":7.625,"a":5.7,"b":8.05},{"q":34.375,"j":7.625,"a":5.7,"b":8.2},{"q":35.625,"j":7.625,"a":5.75,"b":8.35},{"q":36.875,"j":7.625,"a":5.75,"b":8.48},{"q":38.125,"j":7.625,"a":5.8,"b":8.65},{"q":39.375,"j":7.625,"a":5.8,"b":8.9},
{"q":3.125,"j":7.875,"a":5.5,"b":4.55},{"q":4.375,"j":7.875,"a":5.5,"b":4.57},{"q":5.625,"j":7.875,"a":5.5,"b":4.6},{"q":6.875,"j":7.875,"a":5.5,"b":4.7},{"q":8.125,"j":7.875,"a":5.5,"b":4.81},{"q":9.375,"j":7.875,"a":5.5,"b":4.92},{"q":10.625,"j":7.875,"a":5.5,"b":5.08},{"q":11.875,"j":7.875,"a":5.5,"b":5.25},{"q":13.125,"j":7.875,"a":5.5,"b":5.38},{"q":14.375,"j":7.875,"a":5.5,"b":5.5},{"q":15.625,"j":7.875,"a":5.5,"b":5.68},{"q":16.875,"j":7.875,"a":5.5,"b":5.85},{"q":18.125,"j":7.875,"a":5.5,"b":6.05},{"q":19.375,"j":7.875,"a":5.5,"b":6.27},{"q":20.625,"j":7.875,"a":5.55,"b":6.48},{"q":21.875,"j":7.875,"a":5.55,"b":6.66},{"q":23.125,"j":7.875,"a":5.55,"b":6.83},{"q":24.375,"j":7.875,"a":5.55,"b":6.99},{"q":25.625,"j":7.875,"a":5.6,"b":7.14},{"q":26.875,"j":7.875,"a":5.6,"b":7.28},{"q":28.125,"j":7.875,"a":5.6,"b":7.46},{"q":29.375,"j":7.875,"a":5.6,"b":7.64},{"q":30.625,"j":7.875,"a":5.65,"b":7.82},{"q":31.875,"j":7.875,"a":5.65,"b":8},{"q":33.125,"j":7.875,"a":5.65,"b":8.15},{"q":34.375,"j":7.875,"a":5.7,"b":8.3},{"q":35.625,"j":7.875,"a":5.7,"b":8.45},{"q":36.875,"j":7.875,"a":5.7,"b":8.6},{"q":38.125,"j":7.875,"a":5.7,"b":8.85},{"q":39.375,"j":7.875,"a":5.7,"b":9.05}
],
"c":[
{"s":"5a","i":0,"Q":10.2,"J":8},{"s":"5a","i":1,"Q":9.16,"J":6},{"s":"5a","i":2,"Q":8.75,"J":5.24},{"s":"5a","i":3,"Q":8.3,"J":4.75},{"s":"5a","i":4,"Q":7.58,"J":4.18},{"s":"5a","i":5,"Q":7.35,"J":3.84},{"s":"5a","i":6,"Q":6.3,"J":3.04},{"s":"5a","i":7,"Q":5.04,"J":2.26},
{"s":"5b","i":0,"Q":3.77,"J":1.48},{"s":"5b","i":1,"Q":2.5,"J":0.76},
{"s":"6a","i":0,"Q":18,"J":8},{"s":"6a","i":1,"Q":18.4,"J":6.77},{"s":"6a","i":2,"Q":18.75,"J":6},{"s":"6a","i":3,"Q":20,"J":5.26},{"s":"6a","i":4,"Q":20.5,"J":4.26},{"s":"6a","i":5,"Q":20.27,"J":3.84},{"s":"6a","i":6,"Q":20,"J":2.75},{"s":"6a","i":7,"Q":18.8,"J":2.26},
{"s":"6b","i":0,"Q":17.5,"J":1.75},{"s":"6b","i":1,"Q":15,"J":0.98},{"s":"6b","i":2,"Q":12.55,"J":0},
{"s":"7a","i":0,"Q":25,"J":8},{"s":"7a","i":1,"Q":25,"J":7.75},{"s":"7a","i":2,"Q":26.3,"J":6.77},{"s":"7a","i":3,"Q":28.8,"J":5.97},{"s":"7a","i":4,"Q":30,"J":5.5},{"s":"7a","i":5,"Q":31.2,"J":5.26},{"s":"7a","i":6,"Q":33.75,"J":4.48},{"s":"7a","i":7,"Q":35.4,"J":3.84},{"s":"7a","i":8,"Q":36.3,"J":3.26},{"s":"7a","i":9,"Q":36.35,"J":2.5},{"s":"7a","i":10,"Q":35,"J":2},
{"s":"7b","i":0,"Q":33.75,"J":1.5},{"s":"7b","i":1,"Q":26.4,"J":0}],
"t":[{"t":"5","Q":4.56,"J":1.87},{"t":"6","Q":18.6,"J":1.97},{"t":"7","Q":34.5,"J":1.75}],
"p":[{"i":0,"Q":12.5,"J":8},{"i":1,"Q":12.5,"J":3},{"i":2,"Q":40,"J":3}],
"l":[
{"Q":2.5,"J":0,"m":5.09},{"Q":2.5,"J":0.25,"m":5.06},{"Q":2.5,"J":0.5,"m":5.03},{"Q":2.5,"J":0.75,"m":4.99},{"Q":2.5,"J":1,"m":4.94},{"Q":2.5,"J":1.25,"m":4.93},{"Q":2.5,"J":1.5,"m":4.88},{"Q":2.5,"J":1.75,"m":4.86},{"Q":2.5,"J":2,"m":4.83},{"Q":2.5,"J":2.25,"m":4.81},{"Q":2.5,"J":2.5,"m":4.75},{"Q":2.5,"J":2.75,"m":4.78},{"Q":2.5,"J":3,"m":4.74},{"Q":2.5,"J":3.25,"m":4.69},{"Q":2.5,"J":3.5,"m":4.71},{"Q":2.5,"J":3.75,"m":4.65},{"Q":2.5,"J":4,"m":4.64},{"Q":2.5,"J":4.25,"m":4.66},{"Q":2.5,"J":4.5,"m":4.62},{"Q":2.5,"J":4.75,"m":4.61},{"Q":2.5,"J":5,"m":4.58},{"Q":2.5,"J":5.25,"m":4.58},{"Q":2.5,"J":5.5,"m":4.57},{"Q":2.5,"J":5.75,"m":4.54},{"Q":2.5,"J":6,"m":4.54},{"Q":2.5,"J":6.25,"m":4.56},{"Q":2.5,"J":6.5,"m":4.52},{"Q":2.5,"J":6.75,"m":4.5},{"Q":2.5,"J":7,"m":4.5},{"Q":2.5,"J":7.25,"m":4.5},{"Q":2.5,"J":7.5,"m":4.48},{"Q":2.5,"J":7.75,"m":4.47},{"Q":2.5,"J":8,"m":4.49},
{"Q":5,"J":0,"m":5.36},{"Q":5,"J":0.25,"m":5.3},{"Q":5,"J":0.5,"m":5.26},{"Q":5,"J":0.75,"m":5.28},{"Q":5,"J":1,"m":5.19},{"Q":5,"J":1.25,"m":5.17},{"Q":5,"J":1.5,"m":5.11},{"Q":5,"J":1.75,"m":5.09},{"Q":5,"J":2,"m":5.03},{"Q":5,"J":2.25,"m":5.02},{"Q":5,"J":2.5,"m":4.98},{"Q":5,"J":2.75,"m":4.97},{"Q":5,"J":3,"m":4.92},{"Q":5,"J":3.25,"m":4.89},{"Q":5,"J":3.5,"m":4.89},{"Q":5,"J":3.75,"m":4.84},{"Q":5,"J":4,"m":4.81},{"Q":5,"J":4.25,"m":4.8},{"Q":5,"J":4.5,"m":4.79},{"Q":5,"J":4.75,"m":4.76},{"Q":5,"J":5,"m":4.73},{"Q":5,"J":5.25,"m":4.73},{"Q":5,"J":5.5,"m":4.7},{"Q":5,"J":5.75,"m":4.67},{"Q":5,"J":6,"m":4.66},{"Q":5,"J":6.25,"m":4.64},{"Q":5,"J":6.5,"m":4.64},{"Q":5,"J":6.75,"m":4.6},{"Q":5,"J":7,"m":4.6},{"Q":5,"J":7.25,"m":4.57},{"Q":5,"J":7.5,"m":4.54},{"Q":5,"J":7.75,"m":4.53},{"Q":5,"J":8,"m":4.57},
{"Q":7.5,"J":0,"m":5.58},{"Q":7.5,"J":0.25,"m":5.52},{"Q":7.5,"J":0.5,"m":5.49},{"Q":7.5,"J":0.75,"m":5.48},{"Q":7.5,"J":1,"m":5.43},{"Q":7.5,"J":1.25,"m":5.37},{"Q":7.5,"J":1.5,"m":5.31},{"Q":7.5,"J":1.75,"m":5.3},{"Q":7.5,"J":2,"m":5.23},{"Q":7.5,"J":2.25,"m":5.23},{"Q":7.5,"J":2.5,"m":5.17},{"Q":7.5,"J":2.75,"m":5.14},{"Q":7.5,"J":3,"m":5.11},{"Q":7.5,"J":3.25,"m":5.07},{"Q":7.5,"J":3.5,"m":5.07},{"Q":7.5,"J":3.75,"m":5.05},{"Q":7.5,"J":4,"m":5},{"Q":7.5,"J":4.25,"m":4.98},{"Q":7.5,"J":4.5,"m":4.96},{"Q":7.5,"J":4.75,"m":4.94},{"Q":7.5,"J":5,"m":4.92},{"Q":7.5,"J":5.25,"m":4.9},{"Q":7.5,"J":5.5,"m":4.89},{"Q":7.5,"J":5.75,"m":4.86},{"Q":7.5,"J":6,"m":4.86},{"Q":7.5,"J":6.25,"m":4.84},{"Q":7.5,"J":6.5,"m":4.81},{"Q":7.5,"J":6.75,"m":4.81},{"Q":7.5,"J":7,"m":4.77},{"Q":7.5,"J":7.25,"m":4.79},{"Q":7.5,"J":7.5,"m":4.78},{"Q":7.5,"J":7.75,"m":4.79},{"Q":7.5,"J":8,"m":4.75},
{"Q":10,"J":0,"m":5.79},{"Q":10,"J":0.25,"m":5.75},{"Q":10,"J":0.5,"m":5.69},{"Q":10,"J":0.75,"m":5.65},{"Q":10,"J":1,"m":5.62},{"Q":10,"J":1.25,"m":5.57},{"Q":10,"J":1.5,"m":5.49},{"Q":10,"J":1.75,"m":5.45},{"Q":10,"J":2,"m":5.43},{"Q":10,"J":2.25,"m":5.4},{"Q":10,"J":2.5,"m":5.39},{"Q":10,"J":2.75,"m":5.33},{"Q":10,"J":3,"m":5.31},{"Q":10,"J":3.25,"m":5.27},{"Q":10,"J":3.5,"m":5.25},{"Q":10,"J":3.75,"m":5.21},{"Q":10,"J":4,"m":5.2},{"Q":10,"J":4.25,"m":5.17},{"Q":10,"J":4.5,"m":5.17},{"Q":10,"J":4.75,"m":5.14},{"Q":10,"J":5,"m":5.11},{"Q":10,"J":5.25,"m":5.11},{"Q":10,"J":5.5,"m":5.08},{"Q":10,"J":5.75,"m":5.06},{"Q":10,"J":6,"m":5.1},{"Q":10,"J":6.25,"m":5.03},{"Q":10,"J":6.5,"m":5.05},{"Q":10,"J":6.75,"m":5.07},{"Q":10,"J":7,"m":5.01},{"Q":10,"J":7.25,"m":5.03},{"Q":10,"J":7.5,"m":4.99},{"Q":10,"J":7.75,"m":4.96},{"Q":10,"J":8,"m":4.99},
{"Q":12.5,"J":0,"m":6.01},{"Q":12.5,"J":0.25,"m":5.93},{"Q":12.5,"J":0.5,"m":5.89},{"Q":12.5,"J":0.75,"m":5.84},{"Q":12.5,"J":1,"m":5.83},{"Q":12.5,"J":1.25,"m":5.74},{"Q":12.5,"J":1.5,"m":5.69},{"Q":12.5,"J":1.75,"m":5.65},{"Q":12.5,"J":2,"m":5.63},{"Q":12.5,"J":2.25,"m":5.58},{"Q":12.5,"J":2.5,"m":5.56},{"Q":12.5,"J":2.75,"m":5.52},{"Q":12.5,"J":3,"m":5.46},{"Q":12.5,"J":3.25,"m":5.45},{"Q":12.5,"J":3.5,"m":5.46},{"Q":12.5,"J":3.75,"m":5.41},{"Q":12.5,"J":4,"m":5.39},{"Q":12.5,"J":4.25,"m":5.39},{"Q":12.5,"J":4.5,"m":5.34},{"Q":12.5,"J":4.75,"m":5.34},{"Q":12.5,"J":5,"m":5.39},{"Q":12.5,"J":5.25,"m":5.32},{"Q":12.5,"J":5.5,"m":5.33},{"Q":12.5,"J":5.75,"m":5.31},{"Q":12.5,"J":6,"m":5.31},{"Q":12.5,"J":6.25,"m":5.31},{"Q":12.5,"J":6.5,"m":5.29},{"Q":12.5,"J":6.75,"m":5.3},{"Q":12.5,"J":7,"m":5.29},{"Q":12.5,"J":7.25,"m":5.31},{"Q":12.5,"J":7.5,"m":5.24},{"Q":12.5,"J":7.75,"m":5.35},{"Q":12.5,"J":8,"m":5.29},
{"Q":15,"J":0,"m":6.21},{"Q":15,"J":0.25,"m":6.13},{"Q":15,"J":0.5,"m":6.08},{"Q":15,"J":0.75,"m":6.03},{"Q":15,"J":1,"m":5.99},{"Q":15,"J":1.25,"m":5.94},{"Q":15,"J":1.5,"m":5.86},{"Q":15,"J":1.75,"m":5.84},{"Q":15,"J":2,"m":5.77},{"Q":15,"J":2.25,"m":5.74},{"Q":15,"J":2.5,"m":5.71},{"Q":15,"J":2.75,"m":5.68},{"Q":15,"J":3,"m":5.66},{"Q":15,"J":3.25,"m":5.62},{"Q":15,"J":3.5,"m":5.62},{"Q":15,"J":3.75,"m":5.63},{"Q":15,"J":4,"m":5.6},{"Q":15,"J":4.25,"m":5.57},{"Q":15,"J":4.5,"m":5.55},{"Q":15,"J":4.75,"m":5.57},{"Q":15,"J":5,"m":5.54},{"Q":15,"J":5.25,"m":5.56},{"Q":15,"J":5.5,"m":5.52},{"Q":15,"J":5.75,"m":5.53},{"Q":15,"J":6,"m":5.55},{"Q":15,"J":6.25,"m":5.55},{"Q":15,"J":6.5,"m":5.55},{"Q":15,"J":6.75,"m":5.59},{"Q":15,"J":7,"m":5.58},{"Q":15,"J":7.25,"m":5.58},{"Q":15,"J":7.5,"m":5.57},{"Q":15,"J":7.75,"m":5.6},{"Q":15,"J":8,"m":5.67},
{"Q":17.5,"J":0,"m":6.41},{"Q":17.5,"J":0.25,"m":6.33},{"Q":17.5,"J":0.5,"m":6.27},{"Q":17.5,"J":0.75,"m":6.19},{"Q":17.5,"J":1,"m":6.16},{"Q":17.5,"J":1.25,"m":6.09},{"Q":17.5,"J":1.5,"m":6.06},{"Q":17.5,"J":1.75,"m":6},{"Q":17.5,"J":2,"m":5.95},{"Q":17.5,"J":2.25,"m":5.93},{"Q":17.5,"J":2.5,"m":5.9},{"Q":17.5,"J":2.75,"m":5.86},{"Q":17.5,"J":3,"m":5.83},{"Q":17.5,"J":3.25,"m":5.81},{"Q":17.5,"J":3.5,"m":5.78},{"Q":17.5,"J":3.75,"m":5.78},{"Q":17.5,"J":4,"m":5.77},{"Q":17.5,"J":4.25,"m":5.79},{"Q":17.5,"J":4.5,"m":5.77},{"Q":17.5,"J":4.75,"m":5.78},{"Q":17.5,"J":5,"m":5.76},{"Q":17.5,"J":5.25,"m":5.78},{"Q":17.5,"J":5.5,"m":5.78},{"Q":17.5,"J":5.75,"m":5.81},{"Q":17.5,"J":6,"m":5.8},{"Q":17.5,"J":6.25,"m":5.83},{"Q":17.5,"J":6.5,"m":5.84},{"Q":17.5,"J":6.75,"m":5.83},{"Q":17.5,"J":7,"m":5.84},{"Q":17.5,"J":7.25,"m":5.89},{"Q":17.5,"J":7.5,"m":5.88},{"Q":17.5,"J":7.75,"m":5.89},{"Q":17.5,"J":8,"m":5.95},
{"Q":20,"J":0,"m":6.59},{"Q":20,"J":0.25,"m":6.51},{"Q":20,"J":0.5,"m":6.45},{"Q":20,"J":0.75,"m":6.4},{"Q":20,"J":1,"m":6.34},{"Q":20,"J":1.25,"m":6.25},{"Q":20,"J":1.5,"m":6.21},{"Q":20,"J":1.75,"m":6.18},{"Q":20,"J":2,"m":6.12},{"Q":20,"J":2.25,"m":6.1},{"Q":20,"J":2.5,"m":6.04},{"Q":20,"J":2.75,"m":6.01},{"Q":20,"J":3,"m":5.99},{"Q":20,"J":3.25,"m":5.99},{"Q":20,"J":3.5,"m":5.96},{"Q":20,"J":3.75,"m":5.97},{"Q":20,"J":4,"m":5.97},{"Q":20,"J":4.25,"m":5.98},{"Q":20,"J":4.5,"m":5.95},{"Q":20,"J":4.75,"m":5.98},{"Q":20,"J":5,"m":5.99},{"Q":20,"J":5.25,"m":6.01},{"Q":20,"J":5.5,"m":6.01},{"Q":20,"J":5.75,"m":6.08},{"Q":20,"J":6,"m":6.05},{"Q":20,"J":6.25,"m":6.09},{"Q":20,"J":6.5,"m":6.14},{"Q":20,"J":6.75,"m":6.14},{"Q":20,"J":7,"m":6.24},{"Q":20,"J":7.25,"m":6.27},{"Q":20,"J":7.5,"m":6.24},{"Q":20,"J":7.75,"m":6.27},{"Q":20,"J":8,"m":6.28},
{"Q":22.5,"J":0,"m":6.76},{"Q":22.5,"J":0.25,"m":6.69},{"Q":22.5,"J":0.5,"m":6.58},{"Q":22.5,"J":0.75,"m":6.52},{"Q":22.5,"J":1,"m":6.45},{"Q":22.5,"J":1.25,"m":6.4},{"Q":22.5,"J":1.5,"m":6.35},{"Q":22.5,"J":1.75,"m":6.3},{"Q":22.5,"J":2,"m":6.3},{"Q":22.5,"J":2.25,"m":6.26},{"Q":22.5,"J":2.5,"m":6.21},{"Q":22.5,"J":2.75,"m":6.19},{"Q":22.5,"J":3,"m":6.17},{"Q":22.5,"J":3.25,"m":6.16},{"Q":22.5,"J":3.5,"m":6.14},{"Q":22.5,"J":3.75,"m":6.16},{"Q":22.5,"J":4,"m":6.15},{"Q":22.5,"J":4.25,"m":6.13},{"Q":22.5,"J":4.5,"m":6.18},{"Q":22.5,"J":4.75,"m":6.16},{"Q":22.5,"J":5,"m":6.21},{"Q":22.5,"J":5.25,"m":6.21},{"Q":22.5,"J":5.5,"m":6.29},{"Q":22.5,"J":5.75,"m":6.31},{"Q":22.5,"J":6,"m":6.32},{"Q":22.5,"J":6.25,"m":6.44},{"Q":22.5,"J":6.5,"m":6.45},{"Q":22.5,"J":6.75,"m":6.46},{"Q":22.5,"J":7,"m":6.5},{"Q":22.5,"J":7.25,"m":6.59},{"Q":22.5,"J":7.5,"m":6.64},{"Q":22.5,"J":7.75,"m":6.63},{"Q":22.5,"J":8,"m":6.69},
{"Q":25,"J":0,"m":6.91},{"Q":25,"J":0.25,"m":6.83},{"Q":25,"J":0.5,"m":6.74},{"Q":25,"J":0.75,"m":6.68},{"Q":25,"J":1,"m":6.62},{"Q":25,"J":1.25,"m":6.6},{"Q":25,"J":1.5,"m":6.49},{"Q":25,"J":1.75,"m":6.48},{"Q":25,"J":2,"m":6.42},{"Q":25,"J":2.25,"m":6.4},{"Q":25,"J":2.5,"m":6.35},{"Q":25,"J":2.75,"m":6.33},{"Q":25,"J":3,"m":6.33},{"Q":25,"J":3.25,"m":6.31},{"Q":25,"J":3.5,"m":6.29},{"Q":25,"J":3.75,"m":6.31},{"Q":25,"J":4,"m":6.31},{"Q":25,"J":4.25,"m":6.32},{"Q":25,"J":4.5,"m":6.35},{"Q":25,"J":4.75,"m":6.37},{"Q":25,"J":5,"m":6.4},{"Q":25,"J":5.25,"m":6.46},{"Q":25,"J":5.5,"m":6.48},{"Q":25,"J":5.75,"m":6.56},{"Q":25,"J":6,"m":6.6},{"Q":25,"J":6.25,"m":6.63},{"Q":25,"J":6.5,"m":6.72},{"Q":25,"J":6.75,"m":6.8},{"Q":25,"J":7,"m":6.8},{"Q":25,"J":7.25,"m":6.95},{"Q":25,"J":7.5,"m":6.93},{"Q":25,"J":7.75,"m":6.99},{"Q":25,"J":8,"m":6.99},
{"Q":27.5,"J":0,"m":7.06},{"Q":27.5,"J":0.25,"m":6.99},{"Q":27.5,"J":0.5,"m":6.9},{"Q":27.5,"J":0.75,"m":6.87},{"Q":27.5,"J":1,"m":6.8},{"Q":27.5,"J":1.25,"m":6.75},{"Q":27.5,"J":1.5,"m":6.63},{"Q":27.5,"J":1.75,"m":6.6},{"Q":27.5,"J":2,"m":6.57},{"Q":27.5,"J":2.25,"m":6.52},{"Q":27.5,"J":2.5,"m":6.52},{"Q":27.5,"J":2.75,"m":6.5},{"Q":27.5,"J":3,"m":6.47},{"Q":27.5,"J":3.25,"m":6.47},{"Q":27.5,"J":3.5,"m":6.45},{"Q":27.5,"J":3.75,"m":6.48},{"Q":27.5,"J":4,"m":6.49},{"Q":27.5,"J":4.25,"m":6.54},{"Q":27.5,"J":4.5,"m":6.54},{"Q":27.5,"J":4.75,"m":6.6},{"Q":27.5,"J":5,"m":6.63},{"Q":27.5,"J":5.25,"m":6.65},{"Q":27.5,"J":5.5,"m":6.74},{"Q":27.5,"J":5.75,"m":6.8},{"Q":27.5,"J":6,"m":6.84},{"Q":27.5,"J":6.25,"m":6.96},{"Q":27.5,"J":6.5,"m":6.96},{"Q":27.5,"J":6.75,"m":7.08},{"Q":27.5,"J":7,"m":7.16},{"Q":27.5,"J":7.25,"m":7.21},{"Q":27.5,"J":7.5,"m":7.2},{"Q":27.5,"J":7.75,"m":7.36},{"Q":27.5,"J":8,"m":7.28},
{"Q":30,"J":0,"m":7.22},{"Q":30,"J":0.25,"m":7.1},{"Q":30,"J":0.5,"m":7.03},{"Q":30,"J":0.75,"m":6.98},{"Q":30,"J":1,"m":6.9},{"Q":30,"J":1.25,"m":6.85},{"Q":30,"J":1.5,"m":6.84},{"Q":30,"J":1.75,"m":6.75},{"Q":30,"J":2,"m":6.71},{"Q":30,"J":2.25,"m":6.67},{"Q":30,"J":2.5,"m":6.7},{"Q":30,"J":2.75,"m":6.62},{"Q":30,"J":3,"m":6.61},{"Q":30,"J":3.25,"m":6.67},{"Q":30,"J":3.5,"m":6.66},{"Q":30,"J":3.75,"m":6.65},{"Q":30,"J":4,"m":6.7},{"Q":30,"J":4.25,"m":6.71},{"Q":30,"J":4.5,"m":6.72},{"Q":30,"J":4.75,"m":6.81},{"Q":30,"J":5,"m":6.87},{"Q":30,"J":5.25,"m":6.91},{"Q":30,"J":5.5,"m":6.99},{"Q":30,"J":5.75,"m":7.02},{"Q":30,"J":6,"m":7.12},{"Q":30,"J":6.25,"m":7.17},{"Q":30,"J":6.5,"m":7.28},{"Q":30,"J":6.75,"m":7.31},{"Q":30,"J":7,"m":7.4},{"Q":30,"J":7.25,"m":7.44},{"Q":30,"J":7.5,"m":7.53},{"Q":30,"J":7.75,"m":7.69},{"Q":30,"J":8,"m":7.66},
{"Q":32.5,"J":0,"m":7.35},{"Q":32.5,"J":0.25,"m":7.26},{"Q":32.5,"J":0.5,"m":7.21},{"Q":32.5,"J":0.75,"m":7.17},{"Q":32.5,"J":1,"m":7.06},{"Q":32.5,"J":1.25,"m":7.02},{"Q":32.5,"J":1.5,"m":6.97},{"Q":32.5,"J":1.75,"m":6.92},{"Q":32.5,"J":2,"m":6.85},{"Q":32.5,"J":2.25,"m":6.83},{"Q":32.5,"J":2.5,"m":6.81},{"Q":32.5,"J":2.75,"m":6.81},{"Q":32.5,"J":3,"m":6.76},{"Q":32.5,"J":3.25,"m":6.81},{"Q":32.5,"J":3.5,"m":6.78},{"Q":32.5,"J":3.75,"m":6.81},{"Q":32.5,"J":4,"m":6.85},{"Q":32.5,"J":4.25,"m":6.87},{"Q":32.5,"J":4.5,"m":6.93},{"Q":32.5,"J":4.75,"m":6.96},{"Q":32.5,"J":5,"m":7.05},{"Q":32.5,"J":5.25,"m":7.11},{"Q":32.5,"J":5.5,"m":7.22},{"Q":32.5,"J":5.75,"m":7.26},{"Q":32.5,"J":6,"m":7.35},{"Q":32.5,"J":6.25,"m":7.48},{"Q":32.5,"J":6.5,"m":7.55},{"Q":32.5,"J":6.75,"m":7.68},{"Q":32.5,"J":7,"m":7.71},{"Q":32.5,"J":7.25,"m":7.83},{"Q":32.5,"J":7.5,"m":7.92},{"Q":32.5,"J":7.75,"m":8.03},{"Q":32.5,"J":8,"m":8.16},
{"Q":35,"J":0,"m":7.52},{"Q":35,"J":0.25,"m":7.41},{"Q":35,"J":0.5,"m":7.31},{"Q":35,"J":0.75,"m":7.23},{"Q":35,"J":1,"m":7.18},{"Q":35,"J":1.25,"m":7.14},{"Q":35,"J":1.5,"m":7.06},{"Q":35,"J":1.75,"m":7.03},{"Q":35,"J":2,"m":6.98},{"Q":35,"J":2.25,"m":6.98},{"Q":35,"J":2.5,"m":6.95},{"Q":35,"J":2.75,"m":6.93},{"Q":35,"J":3,"m":6.91},{"Q":35,"J":3.25,"m":6.93},{"Q":35,"J":3.5,"m":6.97},{"Q":35,"J":3.75,"m":6.98},{"Q":35,"J":4,"m":7.03},{"Q":35,"J":4.25,"m":7.08},{"Q":35,"J":4.5,"m":7.12},{"Q":35,"J":4.75,"m":7.16},{"Q":35,"J":5,"m":7.27},{"Q":35,"J":5.25,"m":7.34},{"Q":35,"J":5.5,"m":7.43},{"Q":35,"J":5.75,"m":7.53},{"Q":35,"J":6,"m":7.58},{"Q":35,"J":6.25,"m":7.71},{"Q":35,"J":6.5,"m":7.77},{"Q":35,"J":6.75,"m":7.94},{"Q":35,"J":7,"m":8},{"Q":35,"J":7.25,"m":8.19},{"Q":35,"J":7.5,"m":8.18},{"Q":35,"J":7.75,"m":8.43},{"Q":35,"J":8,"m":8.48},
{"Q":37.5,"J":0,"m":7.68},{"Q":37.5,"J":0.25,"m":7.64},{"Q":37.5,"J":0.5,"m":7.49},{"Q":37.5,"J":0.75,"m":7.43},{"Q":37.5,"J":1,"m":7.31},{"Q":37.5,"J":1.25,"m":7.31},{"Q":37.5,"J":1.5,"m":7.21},{"Q":37.5,"J":1.75,"m":7.19},{"Q":37.5,"J":2,"m":7.12},{"Q":37.5,"J":2.25,"m":7.13},{"Q":37.5,"J":2.5,"m":7.09},{"Q":37.5,"J":2.75,"m":7.08},{"Q":37.5,"J":3,"m":7.06},{"Q":37.5,"J":3.25,"m":7.08},{"Q":37.5,"J":3.5,"m":7.08},{"Q":37.5,"J":3.75,"m":7.13},{"Q":37.5,"J":4,"m":7.14},{"Q":37.5,"J":4.25,"m":7.3},{"Q":37.5,"J":4.5,"m":7.27},{"Q":37.5,"J":4.75,"m":7.37},{"Q":37.5,"J":5,"m":7.46},{"Q":37.5,"J":5.25,"m":7.54},{"Q":37.5,"J":5.5,"m":7.61},{"Q":37.5,"J":5.75,"m":7.81},{"Q":37.5,"J":6,"m":7.87},{"Q":37.5,"J":6.25,"m":7.96},{"Q":37.5,"J":6.5,"m":8.04},{"Q":37.5,"J":6.75,"m":8.18},{"Q":37.5,"J":7,"m":8.39},{"Q":37.5,"J":7.25,"m":8.4},{"Q":37.5,"J":7.5,"m":8.64},{"Q":37.5,"J":7.75,"m":8.66},{"Q":37.5,"J":8,"m":8.8},
{"Q":40,"J":0,"m":7.8},{"Q":40,"J":0.25,"m":7.72},{"Q":40,"J":0.5,"m":7.62},{"Q":40,"J":0.75,"m":7.57},{"Q":40,"J":1,"m":7.49},{"Q":40,"J":1.25,"m":7.41},{"Q":40,"J":1.5,"m":7.33},{"Q":40,"J":1.75,"m":7.32},{"Q":40,"J":2,"m":7.28},{"Q":40,"J":2.25,"m":7.25},{"Q":40,"J":2.5,"m":7.24},{"Q":40,"J":2.75,"m":7.24},{"Q":40,"J":3,"m":7.23},{"Q":40,"J":3.25,"m":7.23},{"Q":40,"J":3.5,"m":7.27},{"Q":40,"J":3.75,"m":7.3},{"Q":40,"J":4,"m":7.33},{"Q":40,"J":4.25,"m":7.4},{"Q":40,"J":4.5,"m":7.45},{"Q":40,"J":4.75,"m":7.53},{"Q":40,"J":5,"m":7.64},{"Q":40,"J":5.25,"m":7.77},{"Q":40,"J":5.5,"m":7.87},{"Q":40,"J":5.75,"m":7.95},{"Q":40,"J":6,"m":8.11},{"Q":40,"J":6.25,"m":8.25},{"Q":40,"J":6.5,"m":8.43},{"Q":40,"J":6.75,"m":8.53},{"Q":40,"J":7,"m":8.63},{"Q":40,"J":7.25,"m":8.78},{"Q":40,"J":7.5,"m":9.05},{"Q":40,"J":7.75,"m":8.95},{"Q":40,"J":8,"m":9.25}
]},
"hconcat":[
{"title":{"text":"ΔJ = 0","font":"Liberation Serif","fontStyle":"italic","fontWeight":"bold","fontSize":70,"color":"#ff3300","dx":32,"offset":14,"anchor":"middle"},"width":667,"height":698,"data":{"name":"g"},"resolve":{"axis":{"x":"independent","y":"independent"}},
"layer":[{"mark":{"type":"rect","width":22.5,"height":22},"encoding":{"x":{"field":"q","type":"quantitative","scale":{"domain":[2.5,40],"nice":false,"zero":false},"axis":{"values":[10,20,30,40],"title":"Q","tickSize":-21,"tickColor":"#000","zindex":1,"labelPadding":61,"labelOffset":5,"titlePadding":25}},"y":{"field":"j","type":"quantitative","scale":{"domain":[0,8],"nice":false},"axis":{"values":[0,2,4,6,8],"title":"J₁","titleFontSize":54,"titleAngle":0,"titleAlign":"center","titleBaseline":"middle","tickSize":-21,"tickColor":"#000","zindex":1,"labelPadding":46,"titlePadding":54}},"color":{"field":"a","type":"quantitative","scale":{"domain":[5.5,7,8.6,10,11.5,13],"range":["#0000ff","#00ff00","#ffff00","#ffa000","#ff0000","#000000"],"interpolate":"rgb","clamp":true},"legend":{"orient":"none","legendX":639,"legendY":-97,"gradientLength":698,"gradientThickness":33,"values":[6,8,10,12],"format":"d","title":"   ⟨m⟩","titleFontSize":53,"titlePadding":44,"titleAnchor":"start","titleAlign":"center","labelOffset":28}}}},
{"data":{"values":[]},"mark":"rect","encoding":{"x":{"field":"q","type":"quantitative","axis":{"orient":"top","values":[10,20,30],"title":null,"labels":false,"tickSize":-21,"tickColor":"#000","zindex":1}},"y":{"field":"j","type":"quantitative","axis":{"orient":"right","values":[2,4,6],"title":null,"labels":false,"tickSize":-21,"tickColor":"#000","zindex":1}}}}]},
{"hconcat":[
{"title":{"text":"J₂  held fixed","font":"Liberation Serif","fontStyle":"italic","fontWeight":"bold","fontSize":70,"color":"#ff3300","dx":-28,"offset":-67,"anchor":"middle"},"width":640,"height":700,"data":{"name":"g"},"resolve":{"axis":{"x":"independent","y":"independent"}},
"layer":[{"mark":{"type":"rect","width":21.6,"height":22.1},"encoding":{"x":{"field":"q","type":"quantitative","scale":{"domain":[2.5,40],"nice":false,"zero":false},"axis":{"values":[10,20,30,40],"title":"Q","tickSize":-21,"tickColor":"#000","zindex":1,"labelPadding":61,"labelOffset":5,"titlePadding":25}},"y":{"field":"j","type":"quantitative","scale":{"domain":[0,8],"nice":false},"axis":{"values":[0,2,4,6,8],"title":"J₁","titleFontSize":54,"titleAngle":0,"titleAlign":"center","titleBaseline":"middle","tickSize":-21,"tickColor":"#000","zindex":1,"labelPadding":46,"titlePadding":54}},"color":{"field":"b","type":"quantitative","scale":{"domain":[4.5,5.73,6.03,6.515,6.71,7.9],"range":["#0000ff","#00ff00","#ffff00","#ffa500","#ff0000","#000000"],"interpolate":"rgb","clamp":true},"legend":{"orient":"none","legendX":610,"legendY":-97,"gradientLength":700,"gradientThickness":33,"values":[5,6,7],"format":"d","title":"⟨m⟩","titleFontSize":53,"titlePadding":44,"titleAnchor":"start","titleAlign":"center","labelOffset":28}}}},
{"data":{"name":"c"},"mark":{"type":"line","stroke":"#800000","strokeWidth":5,"clip":true},"encoding":{"x":{"field":"Q","type":"quantitative","axis":null},"y":{"field":"J","type":"quantitative","axis":null},"detail":{"field":"s"},"order":{"field":"i"}}},
{"data":{"name":"t"},"mark":{"type":"text","font":"Liberation Sans","fontWeight":"bold","fontSize":38,"color":"#800000"},"encoding":{"x":{"field":"Q","type":"quantitative","axis":null},"y":{"field":"J","type":"quantitative","axis":null},"text":{"field":"t"}}},
{"data":{"name":"p"},"mark":{"type":"line","stroke":"#ff00ff","strokeWidth":6,"clip":true},"encoding":{"x":{"field":"Q","type":"quantitative","axis":null},"y":{"field":"J","type":"quantitative","axis":null},"order":{"field":"i"}}},
{"data":{"values":[]},"mark":"rect","encoding":{"x":{"field":"q","type":"quantitative","axis":{"orient":"top","values":[10,20,30],"title":null,"labels":false,"tickSize":-21,"tickColor":"#000","zindex":1}},"y":{"field":"j","type":"quantitative","axis":{"orient":"right","values":[2,4,6],"title":null,"labels":false,"tickSize":-21,"tickColor":"#000","zindex":1}}}}]},
{"vconcat":[{"width":10,"height":1,"view":{"stroke":null},"data":{"values":[]},"mark":"point","encoding":{}},
{"width":538,"height":670,"data":{"name":"l"},"resolve":{"axis":{"x":"independent","y":"independent"}},"layer":[{"mark":{"type":"line","clip":true},"encoding":{"x":{"field":"J","type":"quantitative","scale":{"domain":[0,13],"nice":false},"axis":{"values":[0,2,4,6,8],"title":"J₁","titleFontSize":46,"tickSize":-13,"tickColor":"#999","labelPadding":34,"titlePadding":15}},"y":{"field":"m","type":"quantitative","scale":{"domain":[4.47,9.25],"nice":false,"zero":false},"axis":{"values":[5,6,7,8,9],"title":"⟨m⟩","titleFontSize":46,"titleAngle":0,"titleAlign":"center","titleBaseline":"middle","tickSize":-8,"tickColor":"#999","labelPadding":22,"titlePadding":48}},"color":{"field":"Q","type":"ordinal","scale":{"domain":[2.5,5,7.5,10,12.5,15,17.5,20,22.5,25,27.5,30,32.5,35,37.5,40],"range":["#1a3aa8","#1a3fb0","#2058c0","#2060b0","#ff00ff","#2088b0","#20a0b0","#10b0a8","#20b098","#10b878","#10b868","#10b850","#10b838","#10b830","#10b828","#10b020"]},"legend":{"orient":"none","legendX":466,"legendY":26,"title":null,"labelExpr":"'Q = ' + datum.label","labelAlign":"right","labelOffset":-58,"labelFontSize":25,"symbolType":"M-4.06,0H4.06","symbolSize":256,"rowPadding":8.8}},"strokeWidth":{"field":"Q","type":"ordinal","scale":{"type":"ordinal","domain":[2.5,5,7.5,10,12.5,15,17.5,20,22.5,25,27.5,30,32.5,35,37.5,40],"range":[2,2,2,2,6,2,2,2,2,2,2,2,2,2,2,2]},"legend":null}}},
{"data":{"values":[]},"mark":"line","encoding":{"x":{"field":"J","type":"quantitative","axis":{"orient":"top","values":[2,4,6,8],"title":null,"labels":false,"tickSize":-13,"tickColor":"#999"}},"y":{"field":"m","type":"quantitative","axis":{"orient":"right","values":[5,6,7,8,9],"title":null,"labels":false,"tickSize":-8,"tickColor":"#999"}}}}]}
],"spacing":5,"bounds":"flush"}
],"spacing":302,"bounds":"flush"}
]}
